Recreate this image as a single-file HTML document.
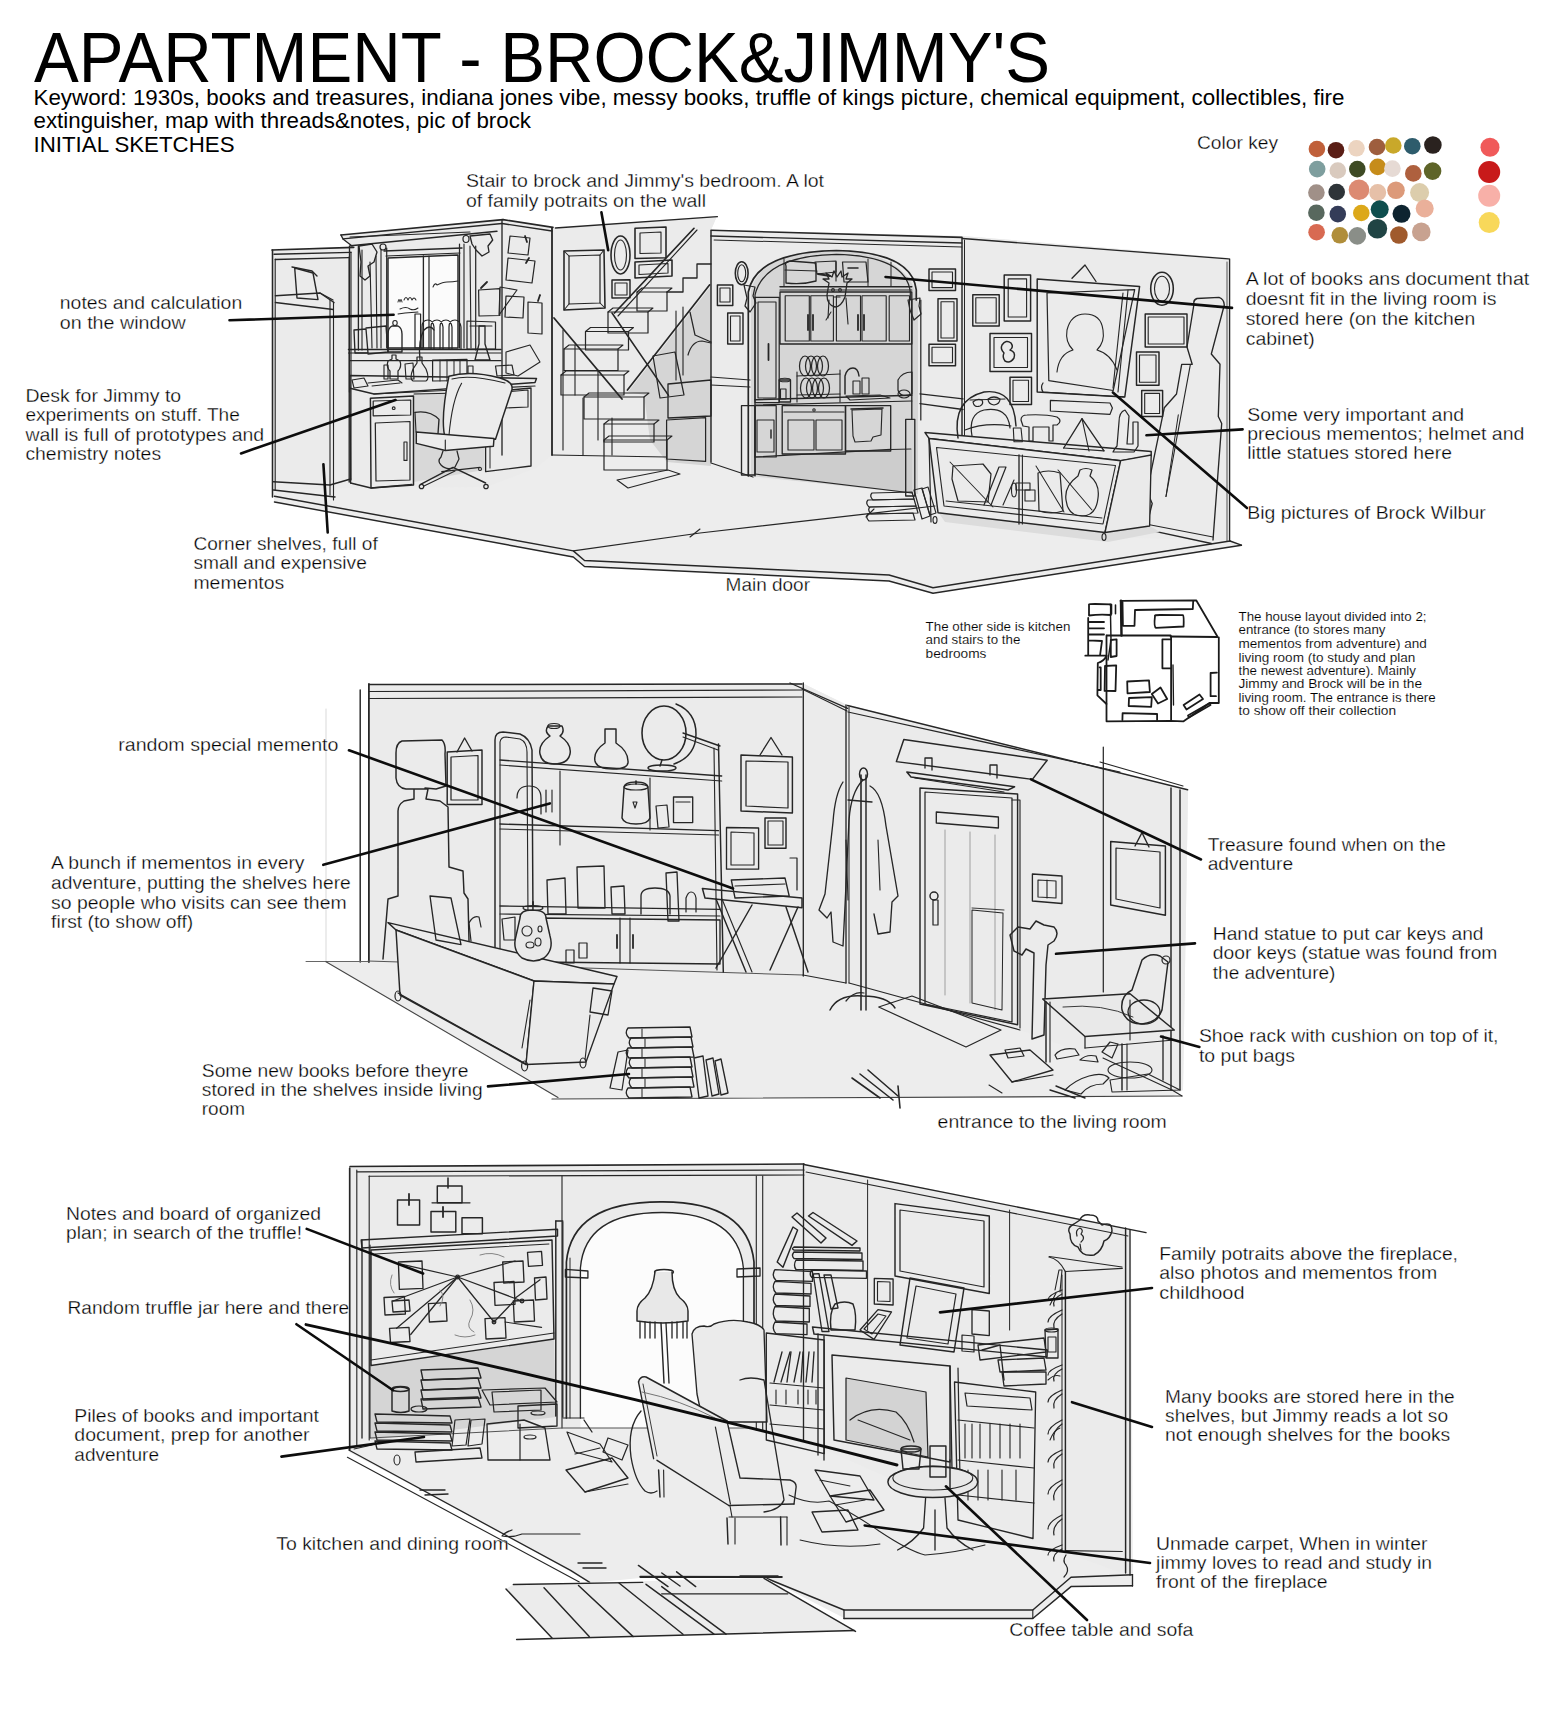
<!DOCTYPE html>
<html><head><meta charset="utf-8"><style>
html,body{margin:0;padding:0;background:#fff;width:1556px;height:1725px;overflow:hidden}
svg{position:absolute;left:0;top:0}
.a{font-family:"Liberation Sans",sans-serif;font-size:18px;fill:#000;stroke:#fff;stroke-width:0.3px}
.h{font-family:"Liberation Sans",sans-serif;fill:#000}
.s{font-family:"Liberation Sans",sans-serif;font-size:12.5px;fill:#000;stroke:#fff;stroke-width:0.12px}
</style></head><body>
<svg width="1556" height="1725" viewBox="0 0 1556 1725">
<g fill="none" stroke="#262626" stroke-width="1.4" stroke-linecap="round" stroke-linejoin="round">
<circle cx="1316.9" cy="149" r="8.3" fill="#c0603a" stroke="none"/>
<circle cx="1336" cy="150.2" r="8.3" fill="#5a1e16" stroke="none"/>
<circle cx="1356.5" cy="148.3" r="8.3" fill="#ecd4c0" stroke="none"/>
<circle cx="1377" cy="147" r="8.3" fill="#9e5e3e" stroke="none"/>
<circle cx="1393.3" cy="145.5" r="8.3" fill="#c9a82a" stroke="none"/>
<circle cx="1412.3" cy="146.2" r="8.3" fill="#2e5c6c" stroke="none"/>
<circle cx="1432.9" cy="145" r="8.8" fill="#2a221f" stroke="none"/>
<circle cx="1317.2" cy="169.1" r="8.3" fill="#7e9e9e" stroke="none"/>
<circle cx="1337.8" cy="170.5" r="8.3" fill="#d9cabe" stroke="none"/>
<circle cx="1357.3" cy="169.1" r="8.3" fill="#3e4a24" stroke="none"/>
<circle cx="1377.7" cy="166.9" r="8.3" fill="#c68c1a" stroke="none"/>
<circle cx="1392.4" cy="168.6" r="8.3" fill="#e6dad4" stroke="none"/>
<circle cx="1413.3" cy="173.4" r="8.3" fill="#ae603e" stroke="none"/>
<circle cx="1432.6" cy="171.1" r="8.8" fill="#5e6428" stroke="none"/>
<circle cx="1316.4" cy="192.6" r="8.3" fill="#a09088" stroke="none"/>
<circle cx="1336.7" cy="192" r="8.3" fill="#2e3438" stroke="none"/>
<circle cx="1359" cy="189.8" r="10.3" fill="#dc8a72" stroke="none"/>
<circle cx="1377.7" cy="192.6" r="8.5" fill="#e6c0a8" stroke="none"/>
<circle cx="1396" cy="190.3" r="8.8" fill="#dc9a7a" stroke="none"/>
<circle cx="1419.6" cy="192.6" r="9.5" fill="#dccdac" stroke="none"/>
<circle cx="1316.4" cy="212.7" r="8.3" fill="#58685e" stroke="none"/>
<circle cx="1337.8" cy="214.1" r="8.3" fill="#343c58" stroke="none"/>
<circle cx="1361.3" cy="213" r="8.3" fill="#dca81a" stroke="none"/>
<circle cx="1379.7" cy="209.3" r="9" fill="#0e4e4e" stroke="none"/>
<circle cx="1401.5" cy="213.8" r="9" fill="#0e2430" stroke="none"/>
<circle cx="1424.7" cy="208.5" r="9" fill="#eab09a" stroke="none"/>
<circle cx="1316.6" cy="232.2" r="8.3" fill="#d86a52" stroke="none"/>
<circle cx="1339.8" cy="235.3" r="8.3" fill="#b08e3a" stroke="none"/>
<circle cx="1357.3" cy="235.9" r="8.8" fill="#8a8e88" stroke="none"/>
<circle cx="1377.4" cy="228.8" r="9.8" fill="#204444" stroke="none"/>
<circle cx="1398.9" cy="235" r="8.8" fill="#a05a2c" stroke="none"/>
<circle cx="1421.3" cy="231.9" r="9.3" fill="#c8a290" stroke="none"/>
<circle cx="1490" cy="147.3" r="9.5" fill="#f05a5a" stroke="none"/>
<circle cx="1489.2" cy="172" r="11" fill="#c81a1a" stroke="none"/>
<circle cx="1489.2" cy="195.7" r="11" fill="#f8b0a8" stroke="none"/>
<circle cx="1489.2" cy="222.6" r="10.5" fill="#f8d85a" stroke="none"/>
<polygon points="272.0,249.0 354.0,247.0 340.0,235.0 503.0,219.0 556.0,228.0 717.0,216.0 711.0,230.0 962.0,236.0 1229.0,258.0 1230.0,541.0 1241.0,545.0 933.0,593.0 889.0,581.0 585.0,566.0 573.0,557.0 274.0,502.0" fill="#ededed" stroke="none"/>
<polygon points="272.0,249.0 354.0,247.0 340.0,235.0 503.0,219.0 556.0,228.0 717.0,216.0 711.0,230.0 962.0,236.0 1229.0,258.0 1230.0,541.0 1105.0,537.0 962.0,497.0 918.0,490.0 753.0,478.0 711.0,463.0 667.0,457.0 552.0,455.0 536.0,468.0 486.0,487.0 351.0,488.0 274.0,490.0" fill="#ebebeb" stroke="none"/>
<polygon points="414.0,393.0 484.0,391.0 484.0,470.0 414.0,482.0" fill="#d8d8d8" stroke="none"/>
<polygon points="628.0,392.0 711.0,286.0 711.0,466.0 667.0,462.0 650.0,440.0 644.0,395.0" fill="#d5d5d5" stroke="none"/>
<path d="M751,476 L751,290 Q760,252 836,251 Q908,252 918,300 L918,494 Z" stroke="none" fill="#d6d6d6"/>
<polygon points="755.0,457.0 890.7,449.4 912.0,450.0 912.0,493.0 755.0,474.0" fill="#cdcdcd" stroke="none"/>
<polyline points="272.0,250.0 353.7,247.3" stroke-width="1.68"/>
<polyline points="274.0,254.3 351.0,252.4"/>
<polyline points="275.3,259.5 348.5,257.6"/>
<polyline points="272.5,250.0 272.5,497.0" stroke-width="1.57"/>
<polyline points="275.2,259.0 275.2,490.0" stroke-width="1.12"/>
<polyline points="349.2,257.0 349.2,482.0" stroke-width="1.34"/>
<polyline points="351.0,252.0 351.0,480.0" stroke-width="1.12"/>
<polyline points="330.0,300.0 330.0,495.0" stroke-width="1.12"/>
<polyline points="333.5,302.0 333.5,500.0" stroke-width="1.12"/>
<polyline points="275.4,295.8 320.0,293.0 334.0,302.5"/>
<polyline points="275.4,302.5 333.3,309.5"/>
<polyline points="320.0,293.0 333.0,300.0"/>
<polygon points="294.7,268.0 313.0,273.0 318.0,299.6 297.0,298.0"/>
<polyline points="292.0,267.0 312.0,271.0 317.0,276.0"/>
<polyline points="273.5,481.8 330.0,485.0 350.6,479.0"/>
<polyline points="273.5,490.0 335.0,497.0"/>
<polyline points="274.5,496.2 573.3,550.9 584.5,560.5 889.0,575.0 933.0,587.7 1230.0,541.0" stroke-width="1.46"/>
<polyline points="274.5,502.0 573.3,557.0 584.5,566.5 889.0,581.0 933.0,593.3 1241.4,545.2" stroke-width="1.46"/>
<polyline points="1230.0,541.0 1241.4,545.2"/>
<polyline points="573.3,550.9 700.0,533.0 869.0,513.6 935.0,506.0" stroke-width="1.12"/>
<polyline points="690.0,537.0 700.0,529.0" stroke-width="1.12"/>
<polyline points="866.0,517.0 874.0,509.0" stroke-width="1.12"/>
<polyline points="341.0,235.0 503.0,219.6" stroke-width="1.68"/>
<polyline points="343.0,238.9 502.0,223.5"/>
<polyline points="350.6,245.7 497.0,231.2"/>
<polyline points="341.0,235.0 343.0,239.0 352.0,246.0"/>
<polyline points="349.5,246.0 349.5,392.0" stroke-width="1.34"/>
<polyline points="358.4,246.0 358.4,350.0" stroke-width="1.34"/>
<polyline points="362.0,250.0 362.0,350.0" stroke-width="1.12"/>
<polygon points="359.0,246.0 372.0,244.0 377.0,252.0 374.0,262.0 368.0,266.0 370.0,276.0 365.0,280.0 360.0,276.0 361.0,262.0" stroke-width="1.34"/>
<polyline points="370.0,262.0 372.0,348.0" stroke-width="1.12"/>
<polyline points="376.0,256.0 377.0,348.0" stroke-width="1.12"/>
<polyline points="381.0,250.0 381.0,348.0" stroke-width="1.12"/>
<polyline points="386.7,248.0 386.7,348.0" stroke-width="1.23"/>
<ellipse cx="383.0" cy="247.0" rx="3.0" ry="3.0" stroke-width="1.23"/>
<polygon points="388.0,258.0 458.0,255.0 458.0,348.0 388.0,348.0" fill="#fbfbfb" stroke="none"/>
<polyline points="384.0,251.0 462.0,248.0" stroke-width="1.34"/>
<polyline points="386.0,256.0 460.0,253.0" stroke-width="1.12"/>
<polygon points="388.0,258.0 458.0,255.0 458.0,348.0 388.0,348.0" stroke-width="1.46"/>
<polyline points="423.4,256.0 423.4,348.0" stroke-width="1.34"/>
<polyline points="429.0,256.0 429.0,348.0" stroke-width="1.23"/>
<path d="M398,302 q1,-5 2,0 q1,-5 2,0 M404,300 q2,-5 4,0 q2,-5 4,0 q2,-4 4,0" stroke-width="1.01"/>
<path d="M400,309 q6,-3 10,0 q4,2 8,-1" stroke-width="1.01"/>
<polyline points="398.0,314.0 405.0,313.0 418.0,312.0" stroke-width="1.01"/>
<path d="M433,287 q2,-5 4,-2 q6,-3 10,-3 q6,0 11,-1" stroke-width="1.01"/>
<polyline points="459.5,244.0 459.5,348.0" stroke-width="1.23"/>
<polyline points="464.0,244.0 464.0,348.0" stroke-width="1.12"/>
<polyline points="470.0,246.0 471.0,348.0" stroke-width="1.12"/>
<polyline points="475.7,246.0 475.7,350.0" stroke-width="1.23"/>
<polygon points="470.0,236.0 490.0,234.0 492.7,240.0 488.0,246.0 489.0,252.0 482.0,256.0 476.0,250.0 472.0,244.0" stroke-width="1.34"/>
<ellipse cx="466.0" cy="239.0" rx="3.0" ry="3.5" stroke-width="1.23"/>
<polyline points="350.0,237.0 470.0,232.0" stroke-width="1.12"/>
<polyline points="348.5,349.4 501.0,349.4" stroke-width="1.46"/>
<polyline points="348.5,353.0 501.0,353.0" stroke-width="1.12"/>
<polyline points="350.0,360.7 501.0,360.7" stroke-width="1.23"/>
<polygon points="354.0,330.0 366.0,329.0 368.0,353.0 355.0,353.0" stroke-width="1.34"/>
<path d="M366,328 l20,-2 l2,26 l-20,2" stroke-width="1.34"/>
<path d="M392,326 q-4,2 -4,8 l0,18 l14,0 l0,-18 q0,-6 -4,-8 z" stroke-width="1.34"/>
<ellipse cx="395.0" cy="323.0" rx="2.2" ry="2.5" stroke-width="1.12"/>
<polygon points="415.0,314.0 420.6,314.0 420.6,348.0 415.0,348.0" stroke-width="1.23"/>
<path d="M422,349 l0,-22 q0,-7 6,-7 q5,0 6,7 l0,22 M431,349 l0,-22 q0,-7 6,-7 q5,0 6,7 l0,22 M440,349 l0,-22 q0,-7 6,-7 q5,0 6,7 l0,22 M449,349 l0,-22 q0,-7 6,-7 q5,0 6,7 l0,22" stroke-width="1.23"/>
<path d="M420,360 q-2,-20 4,-30 q6,-6 10,0" stroke-width="1.34"/>
<polygon points="467.0,321.0 495.5,322.0 495.5,349.0 467.0,349.0" stroke-width="1.23"/>
<polyline points="470.0,326.0 492.0,326.0" stroke-width="1.01"/>
<path d="M475,360 l4,-16 l0,-18 l6,0 l0,18 l5,16 z" stroke-width="1.34"/>
<polygon points="478.6,290.0 499.8,288.6 499.8,315.5 479.0,316.0" stroke-width="1.23"/>
<polyline points="481.0,288.0 487.0,282.0" stroke-width="1.79"/>
<path d="M390,379 l0,-8 q-4,-4 -2,-10 l4,-2 l0,-4 l4,0 l0,4 l4,2 q2,6 -2,10 l0,8 z" stroke-width="1.23"/>
<polygon points="405.0,364.0 413.0,363.0 414.0,379.0 406.0,379.0" stroke-width="1.12"/>
<polygon points="384.0,365.0 388.0,365.0 388.0,379.0 384.0,379.0" stroke-width="1.12"/>
<path d="M413,381 q-4,-2 0,-12 l4,-6 l0,-6 l5,0 l0,6 l4,6 q4,10 0,12 z" stroke-width="1.23"/>
<polygon points="432.6,360.0 467.0,359.3 467.0,380.5 432.6,381.0" stroke-width="1.23"/>
<polyline points="440.0,360.0 440.0,381.0" stroke-width="1.01"/>
<polyline points="447.0,360.0 447.0,381.0" stroke-width="1.01"/>
<polyline points="454.0,360.0 454.0,381.0" stroke-width="1.01"/>
<polyline points="460.0,360.0 460.0,381.0" stroke-width="1.01"/>
<polygon points="468.0,366.0 473.0,366.0 473.0,374.0 468.0,374.0" stroke-width="1.12"/>
<polygon points="495.5,366.0 512.0,365.0 514.0,375.0 497.0,376.0" stroke-width="1.23"/>
<polygon points="352.0,380.0 364.0,378.0 368.0,386.0 354.0,388.0" stroke-width="1.12"/>
<polyline points="368.0,383.0 398.0,380.0 402.0,383.0" stroke-width="1.12"/>
<polyline points="372.0,386.0 400.0,383.0" stroke-width="1.01"/>
<polyline points="503.0,219.6 553.0,227.4" stroke-width="1.57"/>
<polyline points="502.0,223.5 552.0,231.0"/>
<polyline points="502.0,220.0 502.0,455.0" stroke-width="1.34"/>
<polyline points="552.0,228.0 552.0,455.0" stroke-width="1.34"/>
<polygon points="510.0,236.0 530.0,238.0 528.0,255.0 508.0,253.0" stroke-width="1.23"/>
<polygon points="508.0,258.0 535.0,261.0 532.0,283.0 506.0,280.0" stroke-width="1.23"/>
<polygon points="506.0,296.0 524.0,297.0 523.0,318.0 505.0,317.0" stroke-width="1.23"/>
<polygon points="528.0,302.0 542.0,303.0 542.0,334.0 528.0,333.0" stroke-width="1.23"/>
<polygon points="517.0,290.0 500.0,287.0 499.0,315.0" stroke-width="1.12"/>
<polygon points="506.0,352.0 530.0,345.0 540.0,362.0 518.0,376.0 506.0,373.0" stroke-width="1.12"/>
<polyline points="525.0,236.0 527.0,242.0" stroke-width="1.79"/>
<polyline points="526.0,263.0 529.0,258.0" stroke-width="1.79"/>
<polyline points="538.0,301.0 540.0,295.0" stroke-width="1.79"/>
<polygon points="349.9,375.6 536.5,378.4 535.0,382.6 374.0,394.0 350.0,388.3" stroke-width="1.46"/>
<polyline points="374.0,394.0 535.0,386.0" stroke-width="1.23"/>
<polyline points="350.0,388.3 350.6,483.0" stroke-width="1.34"/>
<polyline points="350.6,483.0 371.0,488.0 412.0,484.4" stroke-width="1.34"/>
<polygon points="370.4,398.2 413.5,396.0 413.5,485.0 371.0,488.0" stroke-width="1.46"/>
<polygon points="373.2,401.0 410.7,400.0 410.7,415.0 373.2,415.8" stroke-width="1.23"/>
<ellipse cx="393.7" cy="408.2" rx="1.4" ry="1.3" stroke-width="1.12"/>
<polygon points="375.3,423.0 410.0,421.5 410.0,480.0 376.0,481.0" stroke-width="1.23"/>
<polygon points="404.0,442.0 407.0,442.0 407.0,460.4 404.0,460.4" stroke-width="1.12"/>
<polygon points="485.6,392.5 531.0,388.0 531.0,466.0 485.6,471.7" stroke-width="1.34"/>
<polygon points="504.7,392.0 528.0,390.0 528.0,407.0 505.0,408.0" stroke-width="1.12"/>
<polyline points="490.0,398.0 490.0,468.0" stroke-width="1.01"/>
<polyline points="414.0,394.0 485.6,392.5" stroke-width="1.12"/>
<path d="M448.9,376.3 Q470,370 500,378 Q514,382 511.8,390 L495.5,439.2 L445.3,438.5 Q440,420 448.9,376.3 Z" stroke-width="1.46" fill="#ececec"/>
<path d="M461.6,383.3 Q452,400 448.9,436.3" stroke-width="1.12"/>
<path d="M452,379 Q470,374 505,383" stroke-width="1.12"/>
<path d="M415,412.3 Q430,410 439,419.4 L437.6,439.2" stroke-width="1.34"/>
<polyline points="415.0,412.3 416.0,432.0" stroke-width="1.12"/>
<polygon points="416.3,432.0 494.0,438.5 493.4,446.2 445.3,450.5 416.3,443.4" stroke-width="1.46" fill="#ececec"/>
<polyline points="445.3,440.0 445.3,450.5" stroke-width="1.12"/>
<path d="M443,451 l-2,6 q-4,4 0,8 q6,6 14,2 l4,-8 l-2,-8" stroke-width="1.23"/>
<polyline points="420.6,484.4 453.0,467.4 485.6,483.0" stroke-width="1.46"/>
<polyline points="441.8,471.7 480.0,467.4" stroke-width="1.34"/>
<polyline points="424.0,486.0 455.0,471.0" stroke-width="1.12"/>
<ellipse cx="421.5" cy="486.5" rx="2.2" ry="2.2" stroke-width="1.23"/>
<ellipse cx="486.0" cy="486.5" rx="2.2" ry="2.2" stroke-width="1.23"/>
<ellipse cx="480.0" cy="469.0" rx="1.5" ry="1.5" stroke-width="1.12"/>
<polyline points="555.4,228.0 717.4,216.7" stroke-width="1.34"/>
<polyline points="552.0,228.0 552.0,455.0" stroke-width="1.46"/>
<polyline points="711.0,231.0 711.0,462.0" stroke-width="1.46"/>
<polyline points="552.0,455.0 666.0,457.0" stroke-width="1.23"/>
<polygon points="564.0,251.0 604.0,250.0 605.0,308.0 564.0,310.0" stroke-width="1.57"/>
<polygon points="569.0,256.0 600.0,255.0 600.0,303.0 569.0,304.0" stroke-width="1.23"/>
<polyline points="564.0,251.0 569.0,256.0" stroke-width="1.01"/>
<polyline points="604.0,250.0 600.0,255.0" stroke-width="1.01"/>
<polyline points="605.0,308.0 600.0,303.0" stroke-width="1.01"/>
<polyline points="564.0,310.0 569.0,304.0" stroke-width="1.01"/>
<ellipse cx="620.5" cy="255.0" rx="9.5" ry="19.0" stroke-width="1.57"/>
<ellipse cx="620.5" cy="255.0" rx="6.0" ry="15.0" stroke-width="1.12"/>
<polygon points="635.0,228.3 666.0,227.0 666.0,257.8 635.0,258.5" stroke-width="1.57"/>
<polygon points="640.0,233.0 661.0,232.0 661.0,253.0 640.0,253.5" stroke-width="1.12"/>
<polygon points="635.0,262.0 672.0,260.0 672.0,276.0 635.0,278.0" stroke-width="1.57"/>
<polygon points="639.0,265.0 668.0,263.5 668.0,273.0 639.0,274.5" stroke-width="1.12"/>
<polygon points="612.0,280.0 630.0,279.7 630.0,297.7 612.0,298.0" stroke-width="1.46"/>
<polygon points="615.0,283.0 627.0,283.0 627.0,295.0 615.0,295.0" stroke-width="1.12"/>
<polygon points="604.0,440.0 667.0,440.0 667.0,470.0 604.0,470.0" stroke-width="1.23"/>
<polyline points="604.0,440.0 609.0,436.0 672.0,436.0 667.0,440.0" stroke-width="1.12"/>
<polygon points="604.0,424.0 654.0,424.0 654.0,442.0 604.0,442.0" stroke-width="1.23"/>
<polyline points="604.0,424.0 609.0,420.0 659.0,420.0 654.0,424.0" stroke-width="1.12"/>
<polygon points="584.0,397.0 644.0,397.0 644.0,419.0 584.0,419.0" stroke-width="1.23"/>
<polyline points="584.0,397.0 589.0,393.0 649.0,393.0 644.0,397.0" stroke-width="1.12"/>
<polygon points="561.0,375.0 624.0,375.0 624.0,395.0 561.0,395.0" stroke-width="1.23"/>
<polyline points="561.0,375.0 566.0,371.0 629.0,371.0 624.0,375.0" stroke-width="1.12"/>
<polygon points="564.0,349.0 618.0,349.0 618.0,370.5 564.0,370.5" stroke-width="1.23"/>
<polyline points="564.0,349.0 569.0,345.0 623.0,345.0 618.0,349.0" stroke-width="1.12"/>
<polygon points="585.5,331.5 628.5,331.5 628.5,350.0 585.5,350.0" stroke-width="1.23"/>
<polyline points="585.5,331.5 590.5,327.5 633.5,327.5 628.5,331.5" stroke-width="1.12"/>
<polygon points="608.0,312.0 648.0,312.0 648.0,333.0 608.0,333.0" stroke-width="1.23"/>
<polyline points="608.0,312.0 613.0,308.0 653.0,308.0 648.0,312.0" stroke-width="1.12"/>
<polygon points="637.0,292.0 667.0,292.0 667.0,311.0 637.0,311.0" stroke-width="1.23"/>
<polyline points="637.0,292.0 642.0,288.0 672.0,288.0 667.0,292.0" stroke-width="1.12"/>
<polyline points="667.0,292.0 683.0,292.0 683.0,278.0 697.0,278.0 697.0,264.0 711.0,264.0" stroke-width="1.34"/>
<polyline points="583.0,398.0 583.0,455.0" stroke-width="1.12"/>
<polyline points="612.0,418.0 612.0,455.0" stroke-width="1.12"/>
<polyline points="554.0,318.0 622.0,399.0" stroke-width="1.79"/>
<polyline points="612.0,313.0 668.5,395.4" stroke-width="1.57"/>
<polyline points="614.5,313.0 694.0,228.3" stroke-width="1.68"/>
<polyline points="618.0,316.0 697.0,230.0" stroke-width="1.12"/>
<polyline points="627.4,390.0 709.7,284.8" stroke-width="1.68"/>
<polyline points="563.0,330.0 563.0,450.0" stroke-width="1.12"/>
<polyline points="575.0,345.0 575.0,395.0" stroke-width="1.12"/>
<polyline points="598.0,370.0 598.0,440.0" stroke-width="1.12"/>
<polygon points="653.0,356.0 675.0,352.0 684.0,395.0 660.0,398.0" stroke-width="1.23"/>
<polygon points="668.0,384.0 711.0,380.0 711.0,416.0 668.0,418.0" stroke-width="1.34"/>
<polygon points="666.6,420.0 705.6,417.6 705.6,461.4 666.6,459.0" stroke-width="1.23"/>
<polyline points="690.0,312.0 695.0,335.0 711.0,342.0" stroke-width="1.23"/>
<path d="M688,355 q4,-14 14,-14 l9,2" stroke-width="1.23"/>
<polyline points="676.0,311.0 676.0,380.0" stroke-width="1.12"/>
<polyline points="683.0,307.0 683.0,375.0" stroke-width="1.12"/>
<polygon points="617.0,480.0 668.0,470.0 680.0,474.0 628.0,488.0" stroke-width="1.12"/>
<polyline points="711.0,230.3 962.0,237.4" stroke-width="1.57"/>
<polyline points="711.0,236.0 962.0,243.0" stroke-width="1.34"/>
<polyline points="714.0,240.0 962.0,247.0" stroke-width="1.01"/>
<polyline points="711.0,377.0 750.0,380.0" stroke-width="1.23"/>
<polyline points="711.0,385.0 750.0,387.0" stroke-width="1.23"/>
<polyline points="711.0,463.0 753.0,477.0" stroke-width="1.23"/>
<ellipse cx="741.7" cy="273.3" rx="6.4" ry="11.5" stroke-width="1.57"/>
<ellipse cx="741.7" cy="273.3" rx="4.0" ry="8.5" stroke-width="1.12"/>
<polygon points="717.4,285.0 732.8,285.0 732.8,305.4 717.4,305.4" stroke-width="1.46"/>
<polygon points="720.0,288.0 730.0,288.0 730.0,302.0 720.0,302.0" stroke-width="1.12"/>
<polygon points="727.7,313.0 743.0,313.0 743.0,344.0 727.7,344.0" stroke-width="1.46"/>
<polygon points="730.5,316.0 740.0,316.0 740.0,341.0 730.5,341.0" stroke-width="1.12"/>
<path d="M748.3,476 L748.3,292 Q756,252 836.4,250.5 Q912,252 916.3,290 L916.3,300" stroke-width="1.68"/>
<path d="M755,476 L755,295 Q764,256 836.4,254.3 Q906,256 910.3,292 L910.3,300" stroke-width="1.23"/>
<polygon points="741.5,405.7 755.0,405.7 755.0,475.0 741.5,475.0" stroke-width="1.34"/>
<polygon points="905.7,419.3 914.8,419.3 914.8,496.0 905.7,496.0" stroke-width="1.34"/>
<polyline points="911.8,300.0 911.8,419.0" stroke-width="1.34"/>
<polyline points="920.8,300.0 920.8,420.0" stroke-width="1.23"/>
<polygon points="744.0,285.0 755.0,287.0 753.0,296.0 756.0,303.0 750.0,312.0 745.0,306.0 747.0,298.0" stroke-width="1.23"/>
<polygon points="908.0,300.0 920.0,298.0 919.0,306.0 921.0,314.0 914.0,320.0 910.0,310.0" stroke-width="1.23"/>
<polygon points="755.0,297.3 779.2,297.3 779.2,402.7 755.0,402.7" stroke-width="1.23"/>
<polygon points="758.0,302.0 776.0,302.0 776.0,398.0 758.0,398.0" stroke-width="1.12"/>
<polyline points="768.5,344.0 768.5,360.0" stroke-width="1.79"/>
<polyline points="780.0,286.7 911.8,286.7" stroke-width="1.46"/>
<polyline points="780.0,290.0 911.8,290.0" stroke-width="1.23"/>
<polygon points="780.0,292.0 911.8,292.0 911.8,344.0 780.0,344.0" stroke-width="1.34"/>
<polygon points="785.2,295.7 809.3,295.7 809.3,341.0 785.2,341.0" stroke-width="1.12"/>
<polygon points="810.8,295.7 833.4,295.7 833.4,341.0 810.8,341.0" stroke-width="1.12"/>
<polygon points="836.4,295.7 860.5,295.7 860.5,341.0 836.4,341.0" stroke-width="1.12"/>
<polygon points="862.0,295.7 886.2,295.7 886.2,341.0 862.0,341.0" stroke-width="1.12"/>
<polygon points="889.2,295.7 909.5,295.7 909.5,341.0 889.2,341.0" stroke-width="1.12"/>
<polyline points="808.0,315.0 808.0,330.0" stroke-width="1.79"/>
<polyline points="813.0,315.0 813.0,330.0" stroke-width="1.79"/>
<polyline points="858.0,315.0 858.0,330.0" stroke-width="1.79"/>
<polyline points="864.0,315.0 864.0,330.0" stroke-width="1.79"/>
<polyline points="784.0,259.0 784.0,286.0" stroke-width="1.01"/>
<polyline points="868.0,259.0 868.0,286.0" stroke-width="1.01"/>
<polyline points="891.0,262.0 891.0,286.0" stroke-width="1.01"/>
<path d="M786,266 q-2,-4 4,-5 l26,2 l0,18 q-14,4 -30,2 z" stroke-width="1.34"/>
<polyline points="785.0,270.0 817.0,271.0" stroke-width="1.12"/>
<polygon points="815.0,262.0 836.0,261.0 836.0,272.0 817.0,274.0" stroke-width="1.23"/>
<polyline points="818.0,274.0 830.0,276.0" stroke-width="1.79"/>
<polygon points="842.5,262.0 866.0,262.0 868.0,282.0 844.0,282.0" stroke-width="1.23"/>
<polyline points="848.0,268.0 858.0,268.0" stroke-width="1.57"/>
<polyline points="836.0,262.0 836.0,281.0" stroke-width="1.12"/>
<path d="M829,283 l-6,-4 l6,0 l-3,-6 l6,4 l2,-6 l3,6 l4,-6 l1,6 l6,-4 l-2,6 l6,0 l-5,4 l-2,14 q-4,10 -10,10 q-8,-2 -8,-12 z" stroke-width="1.34"/>
<ellipse cx="833.0" cy="290.0" rx="1.4" ry="1.4" stroke-width="1.12"/>
<ellipse cx="840.0" cy="290.0" rx="1.4" ry="1.4" stroke-width="1.12"/>
<polyline points="834.0,297.0 840.0,297.0" stroke-width="1.23"/>
<polyline points="829.0,300.0 828.0,318.0" stroke-width="1.12"/>
<polyline points="846.0,298.0 848.0,324.0" stroke-width="1.12"/>
<polyline points="831.0,312.0 826.0,320.0" stroke-width="1.01"/>
<ellipse cx="805.0" cy="366.0" rx="5.5" ry="10.0" stroke-width="1.23"/>
<ellipse cx="806.0" cy="388.0" rx="5.5" ry="10.0" stroke-width="1.23"/>
<ellipse cx="811.0" cy="366.0" rx="5.5" ry="10.0" stroke-width="1.23"/>
<ellipse cx="812.0" cy="388.0" rx="5.5" ry="10.0" stroke-width="1.23"/>
<ellipse cx="817.0" cy="366.0" rx="5.5" ry="10.0" stroke-width="1.23"/>
<ellipse cx="818.0" cy="388.0" rx="5.5" ry="10.0" stroke-width="1.23"/>
<ellipse cx="823.0" cy="366.0" rx="5.5" ry="10.0" stroke-width="1.23"/>
<ellipse cx="824.0" cy="388.0" rx="5.5" ry="10.0" stroke-width="1.23"/>
<polyline points="797.0,372.0 797.0,402.0" stroke-width="1.12"/>
<polyline points="797.0,376.0 840.0,374.0" stroke-width="1.12"/>
<polyline points="797.0,395.0 840.0,394.0" stroke-width="1.12"/>
<polyline points="840.0,370.0 840.0,402.0" stroke-width="1.12"/>
<path d="M845,394 l0,-18 q2,-8 8,-8 q5,0 6,8" stroke-width="1.46"/>
<polygon points="853.0,381.0 860.0,381.0 860.0,394.0 853.0,394.0" stroke-width="1.12"/>
<polygon points="862.0,378.0 869.0,378.0 869.0,394.0 862.0,394.0" stroke-width="1.12"/>
<polygon points="779.2,380.0 790.5,380.0 790.5,402.0 779.2,402.0" stroke-width="1.34"/>
<ellipse cx="784.8" cy="380.0" rx="5.6" ry="1.8" stroke-width="1.12"/>
<polygon points="780.5,389.0 786.0,389.0 786.0,399.0 780.5,399.0" stroke-width="1.12"/>
<path d="M898,380 q4,-8 14,-8 l0,22 q-12,4 -14,-4 z" stroke-width="1.23"/>
<ellipse cx="904.0" cy="394.0" rx="6.0" ry="4.0" stroke-width="1.12"/>
<polyline points="755.0,399.7 911.8,395.2" stroke-width="1.46"/>
<polyline points="755.0,405.0 911.8,401.0" stroke-width="1.23"/>
<polygon points="846.0,396.0 880.0,395.0 890.0,398.0 850.0,400.0" stroke-width="1.12"/>
<polygon points="782.2,405.7 845.5,405.7 845.5,454.0 782.2,454.0" stroke-width="1.34"/>
<polyline points="784.0,412.0 844.0,412.0" stroke-width="1.23"/>
<ellipse cx="814.0" cy="410.0" rx="1.2" ry="1.2" stroke-width="1.12"/>
<polygon points="788.0,420.0 814.0,420.0 814.0,450.0 788.0,450.0" stroke-width="1.12"/>
<polygon points="816.0,420.0 842.0,420.0 842.0,450.0 816.0,450.0" stroke-width="1.12"/>
<polygon points="845.5,405.7 890.7,405.7 890.7,451.0 845.5,451.0" stroke-width="1.34"/>
<path d="M852,410 l30,-1 l-1,26 l-8,2 l-2,4 l-16,1 l-2,-6 z" stroke-width="1.12"/>
<polyline points="851.0,409.0 883.0,408.0" stroke-width="1.57"/>
<polygon points="755.0,405.7 776.2,405.7 776.2,457.0 755.0,457.0" stroke-width="1.23"/>
<polygon points="757.0,420.0 774.0,420.0 774.0,452.0 757.0,452.0" stroke-width="1.12"/>
<polyline points="771.0,430.0 771.0,438.0" stroke-width="1.46"/>
<polyline points="755.0,457.0 890.7,449.4" stroke-width="1.23"/>
<polyline points="890.7,449.4 911.0,449.0" stroke-width="1.01"/>
<polyline points="755.0,474.0 912.0,493.0" stroke-width="1.12"/>
<polyline points="962.5,238.5 1228.5,258.9" stroke-width="1.34"/>
<polyline points="962.0,238.0 962.0,500.0" stroke-width="1.46"/>
<polyline points="964.5,240.0 964.5,500.0" stroke-width="1.01"/>
<polyline points="1229.6,258.9 1229.6,541.0" stroke-width="1.34"/>
<polyline points="1227.0,262.0 1227.0,541.0" stroke-width="0.78"/>
<polyline points="920.0,393.8 963.0,398.8" stroke-width="1.34"/>
<polyline points="920.0,403.7 963.0,409.5" stroke-width="1.34"/>
<polygon points="929.0,269.0 955.5,269.0 955.5,290.6 929.0,290.6" stroke-width="1.46"/>
<polygon points="932.0,272.0 952.5,272.0 952.5,287.6 932.0,287.6" stroke-width="1.12"/>
<polygon points="938.0,298.8 957.0,298.8 957.0,341.0 938.0,341.0" stroke-width="1.46"/>
<polygon points="941.0,301.8 954.0,301.8 954.0,338.0 941.0,338.0" stroke-width="1.12"/>
<polygon points="929.0,344.2 955.5,344.2 955.5,365.7 929.0,365.7" stroke-width="1.46"/>
<polygon points="932.0,347.2 952.5,347.2 952.5,362.7 932.0,362.7" stroke-width="1.12"/>
<polygon points="972.8,294.7 999.2,294.7 999.2,326.0 972.8,326.0" stroke-width="1.46"/>
<polygon points="975.8,297.7 996.2,297.7 996.2,323.0 975.8,323.0" stroke-width="1.12"/>
<polygon points="1004.2,274.9 1030.6,274.9 1030.6,321.0 1004.2,321.0" stroke-width="1.46"/>
<polygon points="1008.2,278.9 1026.6,278.9 1026.6,317.0 1008.2,317.0" stroke-width="1.12"/>
<polygon points="990.0,333.5 1031.5,333.5 1031.5,371.5 990.0,371.5" stroke-width="1.46"/>
<polygon points="994.0,337.5 1027.5,337.5 1027.5,367.5 994.0,367.5" stroke-width="1.12"/>
<path d="M1002,345 q4,-6 9,-2 q3,4 -1,7 q6,2 4,8 q-4,6 -9,3 q-3,-4 -1,-8 q-4,-4 -2,-8z" stroke-width="1.46"/>
<polygon points="1010.0,377.3 1031.5,377.3 1031.5,404.5 1010.0,404.5" stroke-width="1.46"/>
<polygon points="1013.0,380.3 1028.5,380.3 1028.5,401.5 1013.0,401.5" stroke-width="1.12"/>
<polygon points="1037.2,279.0 1139.6,286.4 1124.8,397.0 1037.2,392.0" stroke-width="1.46"/>
<polygon points="1047.0,293.0 1134.7,289.7 1113.2,390.5 1048.8,380.6" stroke-width="1.23"/>
<polyline points="1123.0,293.0 1113.0,388.0" stroke-width="1.12"/>
<polyline points="1128.0,290.0 1118.0,392.0" stroke-width="1.12"/>
<path d="M1043,383 q-3,4 0,9 L1124,397" stroke-width="1.23"/>
<polyline points="1072.0,278.2 1085.0,265.0 1096.0,281.5" stroke-width="1.34"/>
<path d="M1057,372 q2,-18 16,-22 q-8,-8 -6,-20 q4,-16 18,-16 q16,0 18,16 q2,12 -6,20 q14,4 20,20" stroke-width="1.12"/>
<polygon points="1050.4,400.4 1110.0,403.0 1112.4,408.0 1110.0,414.4 1050.4,411.0" stroke-width="1.23"/>
<ellipse cx="1162.0" cy="288.7" rx="11.3" ry="16.5" stroke-width="1.57"/>
<ellipse cx="1162.0" cy="288.7" rx="7.5" ry="12.5" stroke-width="1.12"/>
<polygon points="1145.2,314.0 1187.0,314.0 1187.0,347.0 1145.2,347.0" stroke-width="1.46"/>
<polygon points="1148.2,317.0 1184.0,317.0 1184.0,344.0 1148.2,344.0" stroke-width="1.12"/>
<polygon points="1136.5,352.0 1159.0,352.0 1159.0,385.2 1136.5,385.2" stroke-width="1.46"/>
<polygon points="1139.5,355.0 1156.0,355.0 1156.0,382.2 1139.5,382.2" stroke-width="1.12"/>
<polygon points="1141.7,390.4 1162.6,390.4 1162.6,416.5 1141.7,416.5" stroke-width="1.46"/>
<polygon points="1144.7,393.4 1159.6,393.4 1159.6,413.5 1144.7,413.5" stroke-width="1.12"/>
<path d="M1197,298.5 L1219,297.4 Q1224,299 1224.3,305 L1211.3,354 L1220,364.3 L1218.3,416.5 L1221.7,423.5 L1213,540 M1197,298.5 Q1193,300 1194,304 L1187,347 L1192.2,364.3 L1181.7,364.3 L1176.5,394 L1164.3,407.8 L1147,491.3 L1152.2,503.5 L1147,524.3 L1147,529.6 L1211.3,543.5" stroke-width="1.34"/>
<polyline points="1190.4,364.3 1166.0,496.5" stroke-width="1.12"/>
<polyline points="1178.3,414.8 1166.0,496.5" stroke-width="1.01"/>
<polyline points="1147.0,524.3 1213.0,537.0" stroke-width="1.12"/>
<polygon points="938.0,512.0 1105.0,532.0 1150.0,526.0 1160.0,532.0 1108.0,542.0 945.0,522.0" fill="#dcdcdc" stroke="none"/>
<polygon points="925.0,432.6 1151.2,451.6 1151.2,456.0 1120.7,460.7 929.0,438.4" stroke-width="1.46" fill="#ebebeb"/>
<polygon points="929.0,438.4 1120.7,460.7 1105.0,532.5 938.0,512.7" stroke-width="1.46" fill="#ebebeb"/>
<polygon points="1120.7,460.7 1151.2,455.0 1149.6,526.0 1105.0,532.5" stroke-width="1.34" fill="#eaeaea"/>
<polygon points="936.5,447.5 1115.5,465.5 1103.0,524.0 944.0,506.0" stroke-width="1.12"/>
<polyline points="1019.0,455.0 1019.0,524.0" stroke-width="1.34"/>
<polyline points="1022.4,455.0 1022.4,524.0" stroke-width="1.12"/>
<polyline points="946.0,501.0 1102.0,518.0" stroke-width="1.01"/>
<path d="M953,466 l30,-2 l8,10 l-3,28 l-30,-1 l-6,-22 z" stroke-width="1.23"/>
<polyline points="950.0,462.0 993.0,507.0" stroke-width="1.01"/>
<polyline points="984.0,505.0 999.0,467.0 1006.0,467.0 991.0,505.0" stroke-width="1.23"/>
<polyline points="1003.0,505.0 1014.0,480.0" stroke-width="1.12"/>
<ellipse cx="1014.0" cy="490.0" rx="2.5" ry="7.0" stroke-width="1.12"/>
<polygon points="1016.0,483.0 1030.0,483.0 1030.0,490.0 1016.0,490.0" stroke-width="1.12"/>
<polygon points="1025.0,490.0 1035.0,490.0 1035.0,501.0 1025.0,501.0" stroke-width="1.12"/>
<path d="M1038,473 q10,-4 22,0 l3,38 q-12,4 -24,0 z" stroke-width="1.23"/>
<polyline points="1036.0,466.0 1064.0,512.0" stroke-width="1.01"/>
<path d="M1080,470 q6,-3 12,0 l-2,6 q10,8 8,22 q-2,18 -16,18 q-14,0 -16,-16 q-2,-14 12,-24 z" stroke-width="1.23"/>
<polyline points="1058.0,470.0 1092.0,510.0" stroke-width="1.01"/>
<polyline points="929.0,439.0 931.0,522.0" stroke-width="1.23"/>
<ellipse cx="935.0" cy="520.0" rx="2.0" ry="3.5" stroke-width="1.12"/>
<ellipse cx="1104.0" cy="537.0" rx="2.0" ry="3.5" stroke-width="1.12"/>
<path d="M958,438 q-6,-38 26,-46 q30,-4 32,34" stroke-width="1.46"/>
<path d="M972,436 q-4,-22 12,-26 q24,-4 26,18" stroke-width="1.23"/>
<path d="M973,402 q4,-4 9,-2 q2,4 -2,6 q-6,2 -7,-4 z M988,399 q6,-4 12,0 q0,5 -6,6 q-6,-1 -6,-6z" stroke-width="1.23"/>
<polyline points="970.0,400.0 1005.0,399.0" stroke-width="1.12"/>
<path d="M965,430 q20,-8 46,-4" stroke-width="1.12"/>
<polygon points="1013.3,428.0 1021.0,428.0 1022.4,441.7 1014.0,441.7" stroke-width="1.12"/>
<path d="M1021,420 q0,-5 6,-5 q18,-1 30,2 q6,4 0,8 l-4,0 l0,16 l-4,0 l0,-14 l-16,0 l0,14 l-4,0 l0,-14 l-6,-1z" stroke-width="1.23"/>
<polyline points="1063.7,448.0 1082.0,418.6 1104.0,450.8" stroke-width="1.34"/>
<polyline points="1063.7,448.0 1104.0,450.8" stroke-width="1.23"/>
<polyline points="1082.0,418.6 1089.0,451.0" stroke-width="1.12"/>
<path d="M1113,452 q2,-4 4,-6 l2,-24 q0,-10 6,-12 l4,6 l-2,28 l6,0 l0,-22 l5,0 l0,24 l-4,6 z" stroke-width="1.23"/>
<path d="M872,493 L912,492 L914,499 L873,500 Q869,496 872,493 Z" stroke-width="1.23"/>
<path d="M868,500 L914,499 L916,506 L869,507 Q865,503 868,500 Z" stroke-width="1.23"/>
<path d="M870,507 L916,506 L918,513 L871,514 Q867,510 870,507 Z" stroke-width="1.23"/>
<path d="M868,514 L913,513 L915,520 L869,521 Q865,517 868,514 Z" stroke-width="1.23"/>
<polygon points="914.0,490.0 922.0,488.0 930.0,516.0 922.0,519.0" stroke-width="1.23"/>
<polygon points="922.0,489.0 928.0,487.0 936.0,513.0 930.0,515.0" stroke-width="1.12"/>
<polygon points="368.0,684.0 802.0,683.0 847.0,705.0 1188.0,790.0 1183.0,1090.0 1172.0,1097.0 559.0,1099.0 326.0,961.0 368.0,961.0" fill="#ededed" stroke="none"/>
<polygon points="368.0,684.0 802.0,683.0 847.0,705.0 1188.0,790.0 1183.0,1090.0 1103.0,1060.0 1020.0,1030.0 847.0,983.0 803.0,975.0 368.0,961.0" fill="#ebebeb" stroke="none"/>
<polyline points="360.2,690.0 360.2,962.0" stroke-width="1.46"/>
<polyline points="368.9,684.0 368.9,962.0" stroke-width="1.79"/>
<polyline points="369.0,684.6 802.0,684.0" stroke-width="1.46"/>
<polyline points="369.0,691.5 802.0,690.0" stroke-width="1.23"/>
<polyline points="369.0,698.5 802.0,697.0" stroke-width="1.23"/>
<polyline points="326.0,709.0 326.0,962.0" stroke-width="0.56" stroke="#bbbbbb"/>
<polyline points="306.0,961.5 368.0,961.5" stroke-width="1.01" stroke="#666"/>
<polyline points="368.0,961.0 803.0,975.0" stroke-width="1.01" stroke="#555"/>
<polyline points="326.0,961.7 558.0,1097.4" stroke-width="1.12" stroke="#444"/>
<polyline points="552.0,1099.0 1182.0,1096.0" stroke-width="1.23" stroke="#444"/>
<polyline points="1182.0,1096.0 1172.0,1090.0" stroke-width="1.12"/>
<polyline points="790.0,683.0 847.6,708.4" stroke-width="1.34"/>
<polyline points="802.0,689.0 847.0,711.0" stroke-width="1.12"/>
<polyline points="803.3,683.0 803.3,976.0" stroke-width="1.34"/>
<polyline points="846.0,705.0 846.0,983.0" stroke-width="1.34"/>
<polyline points="849.0,707.0 849.0,983.0" stroke-width="1.01"/>
<polyline points="803.0,975.0 846.0,983.0" stroke-width="1.12"/>
<polyline points="847.6,705.5 1187.6,789.7" stroke-width="1.46"/>
<polyline points="848.0,712.0 1120.0,772.0" stroke-width="1.23"/>
<polyline points="1100.0,762.0 1183.0,786.0" stroke-width="1.12"/>
<polyline points="1103.3,747.0 1103.3,992.0" stroke-width="1.23"/>
<polyline points="1171.0,788.0 1171.0,1090.0" stroke-width="1.46"/>
<polyline points="1180.0,790.0 1180.0,1090.0" stroke-width="1.46"/>
<polyline points="849.0,983.0 1020.0,1030.0" stroke-width="1.12"/>
<polyline points="1103.0,1058.0 1172.0,1090.0" stroke-width="1.12"/>
<path d="M402,741 q-6,2 -6,12 l0,25 q1,10 10,11 l8,0 l0,10 l-10,2 q-6,4 -6,10 l0,85 l-10,3 l-5,60 M414,789 l14,0 l-2,10 l14,2 l8,6 l1,60 l14,4 l1,22 l4,6 l1,42 M402,741 l40,-1 q4,4 3,14 l1,32 l-10,3 l-11,-1" stroke-width="1.46"/>
<polygon points="447.2,752.0 482.0,750.0 482.0,804.6 447.2,804.6" stroke-width="1.46"/>
<polygon points="451.0,757.0 478.0,755.5 478.0,800.0 451.0,800.0" stroke-width="1.23"/>
<polyline points="457.0,752.0 464.6,738.0 472.0,751.0" stroke-width="1.34"/>
<path d="M495,967 L495,740 Q495,732 503,732 L520,734 Q530,738 532,750 L533,918" stroke-width="1.46"/>
<path d="M500,967 L500,742 Q501,737 506,737 L520,739 Q527,742 527,752 L528,918" stroke-width="1.12"/>
<polyline points="718.5,744.0 723.3,972.0" stroke-width="1.46"/>
<polyline points="714.0,748.0 717.0,970.0" stroke-width="1.12"/>
<polyline points="500.0,760.0 721.7,776.0" stroke-width="1.34"/>
<polyline points="500.0,765.0 721.7,781.0" stroke-width="1.12"/>
<polyline points="500.0,824.0 718.5,830.7" stroke-width="1.34"/>
<polyline points="500.0,829.0 718.5,835.0" stroke-width="1.12"/>
<polyline points="500.0,906.0 720.0,909.4" stroke-width="1.34"/>
<polyline points="500.0,914.0 720.0,916.0" stroke-width="1.23"/>
<polyline points="560.0,771.0 560.0,845.0" stroke-width="1.12"/>
<polyline points="650.0,778.0 650.0,830.0" stroke-width="1.12"/>
<polygon points="537.0,918.0 720.0,920.0 720.0,964.0 537.0,962.0" stroke-width="1.34"/>
<polyline points="620.0,918.0 620.0,963.0" stroke-width="1.23"/>
<polyline points="630.0,918.0 630.0,963.0" stroke-width="1.12"/>
<polyline points="617.0,935.0 617.0,948.0" stroke-width="1.79"/>
<polyline points="633.0,935.0 633.0,948.0" stroke-width="1.79"/>
<path d="M548,726 q-4,6 2,10 q-12,8 -10,18 q2,10 14,10 q14,0 16,-10 q2,-10 -10,-18 q5,-4 2,-10 z" stroke-width="1.46"/>
<ellipse cx="554.0" cy="726.0" rx="6.0" ry="2.5" stroke-width="1.23"/>
<path d="M605,729 l0,14 q-12,8 -10,18 q2,8 18,8 q16,0 15,-8 q0,-10 -12,-18 l0,-14 z" stroke-width="1.46"/>
<ellipse cx="664.0" cy="733.0" rx="22.0" ry="27.0" stroke-width="1.57"/>
<path d="M676,704 q20,8 20,30 q0,22 -22,30" stroke-width="1.46"/>
<polyline points="662.0,760.0 660.0,766.0" stroke-width="1.46"/>
<ellipse cx="662.0" cy="768.0" rx="14.0" ry="3.0" stroke-width="1.34"/>
<polyline points="683.0,733.0 720.0,746.0" stroke-width="1.34"/>
<polyline points="683.0,737.0 718.0,750.0" stroke-width="1.12"/>
<path d="M624,788 q0,-6 12,-6 q12,0 12,6 l2,30 q-2,6 -14,6 q-12,0 -14,-6 z" stroke-width="1.46"/>
<ellipse cx="636.0" cy="787.0" rx="12.0" ry="3.0" stroke-width="1.23"/>
<polyline points="636.0,781.0 636.0,784.0" stroke-width="1.68"/>
<path d="M633,802 l4,0 l-2,6 z" stroke-width="1.12"/>
<polygon points="656.0,806.0 667.0,805.0 669.0,827.0 658.0,828.0" stroke-width="1.23"/>
<polygon points="673.5,797.0 692.7,797.0 692.7,822.6 673.5,822.6" stroke-width="1.34"/>
<polyline points="676.0,802.0 690.0,802.0" stroke-width="1.12"/>
<path d="M517,798 q0,-12 12,-12 q12,0 12,12 l0,16" stroke-width="1.23"/>
<polyline points="546.0,790.0 546.0,812.0" stroke-width="1.23"/>
<polyline points="552.0,790.0 552.0,812.0" stroke-width="1.12"/>
<polygon points="547.0,880.0 565.0,878.0 566.0,914.0 548.0,914.0" stroke-width="1.34"/>
<polygon points="577.0,867.0 604.0,866.0 605.0,908.0 578.0,908.0" stroke-width="1.34"/>
<polygon points="611.0,887.0 624.0,886.0 625.0,914.0 612.0,914.0" stroke-width="1.34"/>
<path d="M641,914 l0,-18 q0,-8 14,-8 q14,0 15,8 l0,18" stroke-width="1.34"/>
<polygon points="666.0,873.0 677.0,872.0 679.0,921.0 668.0,921.0" stroke-width="1.34"/>
<path d="M686,912 l0,-14 q2,-6 5,-6 q4,0 5,6 l0,14" stroke-width="1.23"/>
<polyline points="760.0,755.0 771.0,737.5 782.0,755.0" stroke-width="1.34"/>
<polygon points="741.0,755.0 792.4,757.0 792.4,813.0 741.0,811.0" stroke-width="1.46"/>
<polygon points="746.0,761.0 788.0,762.0 788.0,808.0 746.0,806.0" stroke-width="1.23"/>
<polygon points="765.0,818.0 786.0,818.0 786.0,848.3 765.0,848.3" stroke-width="1.46"/>
<polygon points="768.0,821.0 783.0,821.0 783.0,845.0 768.0,845.0" stroke-width="1.12"/>
<polygon points="726.5,827.5 758.6,828.0 758.6,869.2 726.5,869.2" stroke-width="1.34"/>
<polygon points="731.0,832.0 754.0,833.0 754.0,865.0 731.0,865.0" stroke-width="1.12"/>
<polyline points="790.0,858.0 797.0,858.0 797.0,890.0" stroke-width="1.23"/>
<polygon points="702.4,888.5 802.0,898.0 802.0,907.8 705.0,898.0" stroke-width="1.46"/>
<polyline points="716.0,899.0 746.0,972.0" stroke-width="1.46"/>
<polyline points="722.0,899.0 752.0,972.0" stroke-width="1.12"/>
<polyline points="752.0,905.0 716.0,968.0" stroke-width="1.46"/>
<polyline points="786.0,907.0 808.0,972.0" stroke-width="1.46"/>
<polyline points="798.0,907.0 770.0,970.0" stroke-width="1.46"/>
<polygon points="731.3,880.0 785.0,878.0 789.2,896.0 735.0,898.0" stroke-width="1.34"/>
<polyline points="735.0,886.0 785.0,884.0" stroke-width="1.12"/>
<polygon points="388.0,922.6 617.0,976.5 614.0,984.0 534.0,981.0 396.0,930.0" stroke-width="1.46" fill="#ebebeb"/>
<polygon points="396.0,930.0 534.0,981.0 526.0,1064.5 400.0,995.0" stroke-width="1.46" fill="#ebebeb"/>
<polygon points="534.0,981.0 614.0,984.0 586.0,1062.0 526.0,1064.5" stroke-width="1.34" fill="#ebebeb"/>
<polyline points="398.0,993.0 526.0,1064.0" stroke-width="1.23"/>
<ellipse cx="398.0" cy="996.0" rx="3.0" ry="5.0" stroke-width="1.23"/>
<ellipse cx="524.6" cy="1066.0" rx="3.0" ry="5.0" stroke-width="1.23"/>
<ellipse cx="583.0" cy="1063.0" rx="3.0" ry="5.0" stroke-width="1.23"/>
<polyline points="530.0,1000.0 522.0,1048.0" stroke-width="1.12"/>
<polygon points="593.0,988.0 612.0,991.0 608.0,1015.0 590.0,1012.0" stroke-width="1.34"/>
<polyline points="590.0,1015.0 585.0,1060.0" stroke-width="1.12"/>
<polygon points="430.0,896.0 451.0,898.0 461.0,944.6 436.0,940.0" stroke-width="1.34"/>
<path d="M471,941 l-2,-18 q4,-8 10,-6 l2,10" stroke-width="1.23"/>
<path d="M520,918 q0,-8 12,-8 q14,0 14,8 l4,18 q4,14 -6,22 q-10,6 -22,0 q-10,-8 -6,-22 z" stroke-width="1.46" fill="#e9e9e9"/>
<ellipse cx="527.0" cy="931.0" rx="5.0" ry="5.0" stroke-width="1.12"/>
<ellipse cx="540.0" cy="929.0" rx="2.0" ry="3.0" stroke-width="1.12"/>
<ellipse cx="538.0" cy="942.0" rx="3.0" ry="4.0" stroke-width="1.12"/>
<ellipse cx="530.0" cy="945.0" rx="4.0" ry="3.0" stroke-width="1.12"/>
<ellipse cx="533.0" cy="908.0" rx="10.0" ry="2.5" stroke-width="1.23"/>
<polyline points="533.0,902.0 533.0,906.0" stroke-width="1.79"/>
<polygon points="502.0,919.0 515.0,917.0 515.0,940.0 504.0,940.0" stroke-width="1.23"/>
<polygon points="566.0,950.0 574.0,950.0 574.0,963.0 566.0,963.0" stroke-width="1.23"/>
<polygon points="579.0,943.0 587.0,943.0 587.0,958.0 579.0,958.0" stroke-width="1.23"/>
<polygon points="896.4,761.6 903.8,739.5 1047.2,760.2 1032.4,779.4" stroke-width="1.46"/>
<polyline points="925.0,768.0 925.0,758.0 932.0,758.0 932.0,770.0" stroke-width="1.34"/>
<polyline points="990.0,775.0 990.0,765.0 997.0,765.0 997.0,778.0" stroke-width="1.34"/>
<polygon points="906.8,772.0 1014.6,786.8 1008.0,790.0 911.0,777.0" stroke-width="1.46"/>
<polyline points="915.0,778.0 1004.0,792.0" stroke-width="1.23"/>
<polygon points="920.0,788.0 1017.6,794.0 1017.6,1024.7 920.0,1004.0" stroke-width="1.46"/>
<polygon points="925.0,792.0 1012.0,798.0 1012.0,1022.0 925.0,1004.0" stroke-width="1.23"/>
<polygon points="936.3,812.0 998.4,817.0 998.4,828.0 936.3,823.0" stroke-width="1.34"/>
<polyline points="945.0,830.0 945.0,995.0" stroke-width="0.78" stroke="#888"/>
<polyline points="970.0,832.0 970.0,1003.0" stroke-width="0.78" stroke="#888"/>
<polyline points="995.0,835.0 995.0,1010.0" stroke-width="0.78" stroke="#888"/>
<polyline points="972.0,908.0 1004.0,910.0" stroke-width="0.9"/>
<polygon points="972.0,910.0 1003.0,913.0 1002.0,1010.0 972.0,1003.0" stroke-width="1.01"/>
<ellipse cx="934.0" cy="896.0" rx="4.0" ry="4.0" stroke-width="1.46"/>
<polygon points="933.0,900.0 938.0,900.0 938.0,925.0 933.0,925.0" stroke-width="1.23"/>
<polyline points="1012.0,800.0 1020.0,800.0 1020.0,1028.0" stroke-width="1.12"/>
<polygon points="1032.4,874.0 1062.0,876.0 1062.0,903.5 1032.4,901.0" stroke-width="1.34"/>
<polygon points="1038.0,880.0 1056.0,881.0 1056.0,898.0 1038.0,897.0" stroke-width="1.12"/>
<polyline points="1047.0,880.0 1047.0,898.0" stroke-width="1.12"/>
<polygon points="1110.7,841.4 1165.4,846.0 1165.4,915.3 1110.7,905.0" stroke-width="1.46"/>
<polygon points="1116.0,848.0 1160.0,852.0 1160.0,908.0 1116.0,899.0" stroke-width="1.23"/>
<polyline points="1135.0,846.0 1142.0,832.6 1149.0,847.0" stroke-width="1.34"/>
<polyline points="861.0,775.0 861.0,1010.0" stroke-width="1.57"/>
<polyline points="866.0,775.0 866.0,1010.0" stroke-width="1.46"/>
<ellipse cx="863.5" cy="774.0" rx="4.0" ry="6.0" stroke-width="1.46"/>
<path d="M830,1010 q8,-16 33,-14 q24,0 32,12" stroke-width="1.46"/>
<path d="M846,1001 q8,-10 18,-8" stroke-width="1.23"/>
<path d="M843,782 q-8,12 -10,40 l-8,72 l-6,16 l8,8 l4,-6 l2,30 l10,4 l2,-40 l4,-86 q2,-28 14,-40" stroke-width="1.34"/>
<path d="M870,786 q12,6 16,40 l12,70 l-6,6 l-2,30 l-12,2 l-4,-20" stroke-width="1.34"/>
<polyline points="848.0,800.0 872.0,802.0" stroke-width="1.34"/>
<polyline points="846.0,840.0 848.0,900.0" stroke-width="1.12"/>
<polyline points="878.0,840.0 880.0,890.0" stroke-width="1.12"/>
<polygon points="878.7,1007.0 912.0,996.0 1001.0,1030.0 966.0,1047.0" stroke-width="1.23"/>
<path d="M1010,935 l8,-8 l12,2 l6,-8 l8,4 l10,2 q6,6 0,14 l-6,4 l-2,20 l-2,70 l-12,4 l2,-86 l-8,-4 l-4,6 l-8,-4 z" stroke-width="1.46"/>
<polygon points="1042.7,999.0 1130.0,993.7 1174.3,1030.0 1085.0,1036.5" stroke-width="1.46" fill="#e9e9e9"/>
<polyline points="1085.0,1036.5 1085.0,1048.0" stroke-width="1.23"/>
<polyline points="1085.0,1048.0 1174.0,1040.0" stroke-width="1.23"/>
<polyline points="1046.0,1002.0 1046.0,1062.0" stroke-width="1.46"/>
<polyline points="1050.0,1002.0 1050.0,1062.0" stroke-width="1.12"/>
<polyline points="1122.0,1044.0 1122.0,1090.0" stroke-width="1.46"/>
<polyline points="1127.0,1044.0 1127.0,1090.0" stroke-width="1.12"/>
<polyline points="1163.0,1036.0 1163.0,1080.0" stroke-width="1.34"/>
<polyline points="1130.0,1000.0 1130.0,1040.0" stroke-width="1.12"/>
<path d="M1063,1007 q40,-4 70,10" stroke-width="0.9"/>
<path d="M1122,1010 q-2,-14 10,-20 l10,-30 q8,-8 18,-4 l8,6 l-6,48 q-4,12 -20,14 q-16,0 -20,-14 z" stroke-width="1.46"/>
<ellipse cx="1144.0" cy="1012.0" rx="16.0" ry="12.0" stroke-width="1.34"/>
<ellipse cx="1166.0" cy="960.0" rx="4.0" ry="4.0" stroke-width="1.23"/>
<path d="M1055,1055 q6,-8 20,-6 l4,6 l-22,4 z" stroke-width="1.23"/>
<path d="M1080,1060 q6,-6 16,-4 l2,6 z" stroke-width="1.23"/>
<path d="M1102,1052 l8,-10 l8,2 l-6,14 z" stroke-width="1.23"/>
<ellipse cx="1130.0" cy="1070.0" rx="22.0" ry="8.0" stroke-width="1.12"/>
<polygon points="990.0,1055.0 1030.0,1050.0 1053.0,1070.0 1012.0,1082.0" stroke-width="1.34"/>
<polyline points="1012.0,1082.0 1053.0,1075.0" stroke-width="1.23"/>
<polygon points="1005.0,1050.0 1020.0,1048.0 1024.0,1056.0 1008.0,1058.0" stroke-width="1.23"/>
<path d="M1065,1090 q10,-10 24,-14 q14,-4 20,2 l-6,6 q-14,0 -22,10 z" stroke-width="1.23"/>
<polygon points="1110.0,1080.0 1148.0,1074.0 1180.0,1090.0 1112.0,1092.0" stroke-width="1.12"/>
<polyline points="852.0,1078.0 880.0,1098.0" stroke-width="1.57"/>
<polyline points="860.0,1074.0 893.0,1100.0" stroke-width="1.57"/>
<polyline points="868.0,1070.0 898.0,1096.0" stroke-width="1.57"/>
<polyline points="898.0,1086.0 900.0,1108.0" stroke-width="1.57"/>
<polyline points="1050.0,1090.0 1075.0,1098.0" stroke-width="1.46"/>
<polyline points="1056.0,1086.0 1085.0,1098.0" stroke-width="1.46"/>
<polyline points="989.0,1085.0 1002.0,1093.0" stroke-width="1.12"/>
<path d="M628,1028 L690,1027 L692,1037 L629,1038 Q624,1033 628,1028 Z" stroke-width="1.34"/>
<polyline points="642.0,1029.0 642.0,1037.0" stroke-width="1.01"/>
<path d="M631,1038 L691,1037 L693,1047 L632,1048 Q627,1043 631,1038 Z" stroke-width="1.34"/>
<polyline points="645.0,1039.0 645.0,1047.0" stroke-width="1.01"/>
<path d="M628,1048 L692,1047 L694,1057 L629,1058 Q624,1053 628,1048 Z" stroke-width="1.34"/>
<polyline points="642.0,1049.0 642.0,1057.0" stroke-width="1.01"/>
<path d="M631,1058 L690,1057 L692,1067 L632,1068 Q627,1063 631,1058 Z" stroke-width="1.34"/>
<polyline points="645.0,1059.0 645.0,1067.0" stroke-width="1.01"/>
<path d="M628,1068 L691,1067 L693,1077 L629,1078 Q624,1073 628,1068 Z" stroke-width="1.34"/>
<polyline points="642.0,1069.0 642.0,1077.0" stroke-width="1.01"/>
<path d="M631,1078 L692,1077 L694,1087 L632,1088 Q627,1083 631,1078 Z" stroke-width="1.34"/>
<polyline points="645.0,1079.0 645.0,1087.0" stroke-width="1.01"/>
<path d="M628,1088 L690,1087 L692,1097 L629,1098 Q624,1093 628,1088 Z" stroke-width="1.34"/>
<polyline points="642.0,1089.0 642.0,1097.0" stroke-width="1.01"/>
<polygon points="618.0,1052.0 628.0,1050.0 622.0,1090.0 610.0,1088.0" stroke-width="1.23"/>
<polygon points="694.0,1058.0 703.0,1056.0 708.0,1096.0 699.0,1098.0" stroke-width="1.34"/>
<polygon points="706.0,1060.0 713.0,1058.0 719.0,1094.0 712.0,1096.0" stroke-width="1.34"/>
<polygon points="715.0,1061.0 721.0,1059.0 728.0,1093.0 721.0,1095.0" stroke-width="1.34"/>
<polygon points="350.0,1166.0 804.0,1164.0 1146.0,1232.0 1131.0,1230.0 1133.0,1587.0 1071.0,1587.0 1033.0,1618.0 844.0,1618.0 766.0,1578.0 640.0,1578.0 590.0,1583.0 515.0,1540.0 349.0,1452.0" fill="#ededed" stroke="none"/>
<polygon points="350.0,1166.0 804.0,1164.0 1146.0,1232.0 1131.0,1230.0 1131.0,1574.0 1125.0,1574.0 1030.0,1540.0 950.0,1505.0 803.0,1440.0 760.0,1430.0 560.0,1428.0 370.0,1438.0 349.0,1448.0" fill="#ebebeb" stroke="none"/>
<path d="M580.4,1428 L580.4,1267 Q585,1212 663,1212 Q740,1212 743.4,1267 L743.4,1428 Z" stroke="none" fill="#fcfcfc"/>
<polygon points="371.0,1366.0 554.0,1339.0 556.0,1417.0 371.0,1440.0" fill="#d5d5d5" stroke="none"/>
<polygon points="846.0,1378.0 926.0,1392.0 928.0,1457.0 846.0,1440.0" fill="#d3d3d3" stroke="none"/>
<polyline points="349.7,1168.0 349.7,1450.0" stroke-width="1.68"/>
<polyline points="356.8,1170.0 356.8,1445.0" stroke-width="1.12"/>
<polyline points="369.2,1176.0 369.2,1440.0" stroke-width="1.12"/>
<polyline points="350.0,1166.5 804.0,1164.0" stroke-width="1.57"/>
<polyline points="357.0,1171.8 804.0,1170.0" stroke-width="1.23"/>
<polyline points="369.0,1176.2 804.0,1175.0" stroke-width="1.12"/>
<polyline points="562.0,1176.0 562.0,1428.0" stroke-width="1.12"/>
<polyline points="756.3,1176.0 756.3,1430.0" stroke-width="1.12"/>
<polyline points="762.7,1176.0 762.7,1430.0" stroke-width="1.12"/>
<polyline points="370.0,1438.0 562.0,1428.0 753.0,1428.0" stroke-width="1.01" stroke="#555"/>
<polygon points="361.2,1240.0 557.5,1229.3 557.5,1236.0 362.0,1248.0" stroke-width="1.46"/>
<polygon points="371.0,1250.0 552.0,1240.0 554.0,1339.0 371.0,1365.5" stroke-width="1.46"/>
<polyline points="375.0,1254.0 549.0,1244.0" stroke-width="1.01"/>
<polyline points="371.0,1360.0 554.0,1333.0" stroke-width="1.12"/>
<polyline points="362.0,1240.0 362.0,1438.0" stroke-width="1.34"/>
<polyline points="370.0,1245.0 370.0,1438.0" stroke-width="1.12"/>
<polyline points="555.8,1221.0 555.8,1416.0" stroke-width="1.46"/>
<polyline points="562.8,1222.0 562.8,1417.0" stroke-width="1.34"/>
<polyline points="555.8,1221.0 562.8,1221.0" stroke-width="1.34"/>
<polygon points="398.4,1262.0 422.0,1261.0 423.0,1288.4 399.4,1289.4" stroke-width="1.34"/>
<polygon points="384.0,1297.5 404.4,1296.5 405.4,1314.0 385.0,1315.0" stroke-width="1.34"/>
<polygon points="428.4,1303.7 446.0,1302.7 447.0,1321.0 429.4,1322.0" stroke-width="1.34"/>
<polygon points="389.5,1328.4 409.0,1327.4 410.0,1341.5 390.5,1342.5" stroke-width="1.34"/>
<polygon points="485.0,1318.7 505.0,1317.7 506.0,1338.0 486.0,1339.0" stroke-width="1.34"/>
<polygon points="502.7,1262.0 523.0,1261.0 524.0,1282.0 503.7,1283.0" stroke-width="1.34"/>
<polygon points="527.5,1252.4 541.5,1251.4 542.5,1265.4 528.5,1266.4" stroke-width="1.34"/>
<polygon points="494.0,1282.5 514.0,1281.5 515.0,1304.3 495.0,1305.3" stroke-width="1.34"/>
<polygon points="513.3,1301.0 533.5,1300.0 534.5,1321.0 514.3,1322.0" stroke-width="1.34"/>
<polygon points="534.5,1278.0 546.0,1277.0 547.0,1299.0 535.5,1300.0" stroke-width="1.34"/>
<polygon points="392.0,1301.0 409.0,1300.0 410.0,1311.0 393.0,1312.0" stroke-width="1.34"/>
<polyline points="457.6,1277.0 400.0,1263.8" stroke-width="1.23"/>
<polyline points="457.6,1277.0 515.0,1261.0" stroke-width="1.23"/>
<polyline points="457.6,1277.0 494.0,1322.0" stroke-width="1.23"/>
<polyline points="457.6,1277.0 396.6,1328.3" stroke-width="1.23"/>
<polyline points="457.6,1277.0 410.7,1334.5" stroke-width="1.23"/>
<polyline points="457.6,1277.0 522.0,1301.0" stroke-width="1.23"/>
<polyline points="457.6,1277.0 393.0,1301.0" stroke-width="1.23"/>
<polyline points="515.0,1298.3 540.0,1279.7" stroke-width="1.23"/>
<polyline points="494.0,1322.0 515.0,1300.0" stroke-width="1.23"/>
<polyline points="505.0,1322.0 541.6,1327.4" stroke-width="1.12"/>
<ellipse cx="457.6" cy="1277.0" rx="1.8" ry="1.8" stroke-width="1.34"/>
<ellipse cx="522.0" cy="1301.0" rx="1.8" ry="1.8" stroke-width="1.34"/>
<ellipse cx="494.0" cy="1322.0" rx="1.8" ry="1.8" stroke-width="1.34"/>
<path d="M392,1275 q-4,10 2,18" stroke-width="0.9" stroke="#777"/>
<path d="M440,1290 q6,6 0,16" stroke-width="0.9" stroke="#777"/>
<path d="M470,1300 q6,10 0,20 q-4,8 4,12" stroke-width="0.9" stroke="#777"/>
<path d="M480,1255 q12,-4 24,2" stroke-width="0.9" stroke="#777"/>
<path d="M455,1335 q10,4 20,0" stroke-width="0.9" stroke="#777"/>
<polygon points="397.5,1200.0 419.6,1200.0 419.6,1224.9 397.5,1224.9" stroke-width="1.46"/>
<polygon points="437.3,1186.0 462.0,1186.0 462.0,1202.8 437.3,1202.8" stroke-width="1.46"/>
<polygon points="431.0,1211.6 455.8,1211.6 455.8,1232.0 431.0,1232.0" stroke-width="1.46"/>
<polygon points="462.0,1217.8 482.4,1217.8 482.4,1233.7 462.0,1233.7" stroke-width="1.46"/>
<polyline points="409.0,1194.0 409.0,1205.0" stroke-width="1.79"/>
<polyline points="448.0,1178.0 448.0,1188.0" stroke-width="1.57"/>
<polyline points="443.0,1207.0 443.0,1217.0" stroke-width="1.79"/>
<polyline points="432.0,1202.8 470.0,1202.8" stroke-width="1.23"/>
<polygon points="421.0,1370.0 478.0,1368.0 481.0,1378.0 423.0,1380.0" stroke-width="1.34"/>
<polygon points="421.0,1380.0 478.0,1378.0 481.0,1388.0 423.0,1390.0" stroke-width="1.34"/>
<polygon points="421.0,1390.0 478.0,1388.0 481.0,1398.0 423.0,1400.0" stroke-width="1.34"/>
<polygon points="421.0,1399.0 478.0,1397.0 481.0,1407.0 423.0,1409.0" stroke-width="1.34"/>
<path d="M392,1389 q8,-4 17,0 l0,22 q-8,3 -17,0 z" stroke-width="1.46"/>
<ellipse cx="400.5" cy="1389.0" rx="8.5" ry="2.5" stroke-width="1.34"/>
<ellipse cx="419.0" cy="1409.0" rx="8.0" ry="3.0" stroke-width="1.23"/>
<polygon points="375.0,1414.0 450.0,1416.0 452.0,1423.0 377.0,1422.0" stroke-width="1.34"/>
<polygon points="375.0,1423.0 450.0,1425.0 452.0,1432.0 377.0,1431.0" stroke-width="1.34"/>
<polygon points="375.0,1432.0 450.0,1434.0 452.0,1441.0 377.0,1440.0" stroke-width="1.34"/>
<polygon points="375.0,1441.0 450.0,1443.0 452.0,1450.0 377.0,1449.0" stroke-width="1.34"/>
<polygon points="482.0,1390.0 545.0,1388.0 557.0,1402.0 490.0,1405.0" stroke-width="1.23"/>
<polygon points="492.0,1392.0 541.0,1390.0 541.0,1410.0 494.0,1412.0" stroke-width="1.23"/>
<polygon points="518.0,1406.0 557.0,1404.0 557.0,1426.0 518.0,1428.0" stroke-width="1.34"/>
<ellipse cx="538.0" cy="1413.0" rx="7.0" ry="2.0" stroke-width="1.23"/>
<polygon points="487.0,1424.0 524.0,1420.0 545.0,1428.0 550.0,1460.0 488.0,1460.0" stroke-width="1.34"/>
<polyline points="520.0,1424.0 520.0,1460.0" stroke-width="1.23"/>
<ellipse cx="530.0" cy="1437.0" rx="6.0" ry="2.0" stroke-width="1.23"/>
<polygon points="455.0,1420.0 470.0,1419.0 466.0,1445.0 452.0,1446.0" stroke-width="1.23"/>
<polygon points="471.0,1420.0 485.0,1419.0 482.0,1444.0 468.0,1446.0" stroke-width="1.23"/>
<polygon points="415.0,1452.0 480.0,1448.0 482.0,1458.0 416.0,1462.0" stroke-width="1.34"/>
<polyline points="354.0,1449.0 372.0,1445.0" stroke-width="1.12"/>
<ellipse cx="397.0" cy="1460.0" rx="3.0" ry="5.0" stroke-width="1.12"/>
<polyline points="348.8,1450.0 570.6,1570.4 589.7,1582.4" stroke-width="1.34"/>
<polyline points="347.4,1457.3 579.3,1582.0" stroke-width="1.12"/>
<polyline points="420.0,1490.0 445.0,1490.0" stroke-width="1.34"/>
<polyline points="425.0,1495.0 448.0,1494.0" stroke-width="1.34"/>
<polyline points="578.0,1563.0 602.0,1563.0" stroke-width="1.34"/>
<polyline points="583.0,1568.0 606.0,1568.0" stroke-width="1.34"/>
<path d="M512,1530 q-8,3 -10,6 q10,2 20,-2 l58,0" stroke-width="1.23"/>
<path d="M566.4,1418 L566.4,1262 Q572,1201 663,1201.8 Q748,1202 754,1262 L754,1418" stroke-width="1.68"/>
<path d="M580.4,1418 L580.4,1268 Q585,1212 663,1212.5 Q738,1213 743.4,1268 L743.4,1418" stroke-width="1.34"/>
<polyline points="570.0,1258.0 570.0,1418.0" stroke-width="1.01"/>
<polygon points="565.4,1269.4 587.9,1271.0 587.9,1278.0 565.4,1277.0" stroke-width="1.34"/>
<polygon points="737.0,1269.0 760.0,1268.0 760.0,1276.0 737.0,1277.0" stroke-width="1.34"/>
<polyline points="563.0,1418.0 584.0,1418.0" stroke-width="1.12"/>
<ellipse cx="664.0" cy="1272.0" rx="9.5" ry="2.5" stroke-width="1.34"/>
<path d="M655,1272 q-2,18 -10,26 q-8,6 -8,13 l0,10 q26,4 51,0 l0,-10 q0,-7 -8,-13 q-8,-8 -8,-26" stroke-width="1.46" fill="#e8e8e8"/>
<polyline points="640.0,1322.0 640.0,1338.0" stroke-width="1.34"/>
<polyline points="645.0,1322.0 645.0,1338.0" stroke-width="1.34"/>
<polyline points="650.0,1322.0 650.0,1338.0" stroke-width="1.34"/>
<polyline points="655.0,1322.0 655.0,1338.0" stroke-width="1.34"/>
<polyline points="672.0,1322.0 672.0,1338.0" stroke-width="1.34"/>
<polyline points="677.0,1322.0 677.0,1338.0" stroke-width="1.34"/>
<polyline points="683.0,1322.0 683.0,1338.0" stroke-width="1.34"/>
<polyline points="687.0,1322.0 687.0,1338.0" stroke-width="1.34"/>
<polyline points="661.0,1323.0 664.0,1383.0" stroke-width="1.46"/>
<polyline points="666.0,1323.0 669.0,1383.0" stroke-width="1.34"/>
<path d="M692,1334 q2,-8 12,-8 q6,2 10,-2 q16,-6 34,-2 q12,2 16,8 l3,92 l-64,0 l-6,-28 z" stroke-width="1.34" fill="#ebebeb"/>
<polygon points="638.5,1380.0 646.0,1377.0 727.0,1422.0 740.0,1478.0 792.0,1481.0 796.0,1486.0 794.0,1504.0 729.0,1506.0 657.0,1461.0 653.6,1458.7" fill="#ececec" stroke="none"/>
<path d="M638.5,1382 Q640,1376 646,1377 L727,1421" stroke-width="1.46"/>
<polyline points="638.5,1382.0 653.6,1458.7" stroke-width="1.34"/>
<polyline points="643.0,1384.0 657.0,1456.0" stroke-width="0.9"/>
<polyline points="657.0,1460.3 728.8,1505.5" stroke-width="1.46"/>
<polyline points="728.8,1505.5 794.0,1504.0" stroke-width="1.34"/>
<path d="M727,1421 L740,1478 L790,1480 Q797,1482 796,1488 L794,1504" stroke-width="1.34"/>
<polyline points="715.4,1427.0 730.4,1504.0" stroke-width="1.23"/>
<polyline points="730.0,1506.0 732.0,1517.0" stroke-width="1.12"/>
<polyline points="658.6,1470.0 660.0,1497.0" stroke-width="1.46"/>
<polyline points="663.6,1470.0 664.0,1497.0" stroke-width="1.12"/>
<polyline points="727.0,1518.0 728.0,1544.0" stroke-width="1.46"/>
<polyline points="735.0,1518.0 735.0,1544.0" stroke-width="1.12"/>
<polyline points="780.6,1517.0 781.0,1545.0" stroke-width="1.46"/>
<polyline points="787.0,1517.0 787.0,1545.0" stroke-width="1.12"/>
<polyline points="729.0,1517.0 787.0,1517.0" stroke-width="1.12"/>
<path d="M642,1392 Q680,1400 715,1418" stroke-width="0.9" stroke="#666"/>
<path d="M641,1411 q-14,16 -10,46 q4,24 14,34 q6,4 12,0" stroke-width="1.34"/>
<polygon points="567.0,1432.0 600.0,1444.0 612.0,1462.0 575.0,1452.0" stroke-width="1.23"/>
<polygon points="566.0,1470.0 612.0,1458.0 628.0,1478.0 585.0,1492.0" stroke-width="1.34"/>
<polyline points="585.0,1492.0 628.0,1484.0" stroke-width="1.12"/>
<polyline points="575.0,1454.0 600.0,1448.0" stroke-width="1.12"/>
<polyline points="584.0,1420.0 592.0,1432.0" stroke-width="1.34"/>
<polygon points="608.0,1438.0 628.0,1445.0 622.0,1460.0 603.0,1452.0" stroke-width="1.23"/>
<polyline points="803.8,1164.5 1146.0,1232.6" stroke-width="1.46"/>
<polyline points="806.0,1172.0 1128.0,1236.0" stroke-width="1.01"/>
<polyline points="803.5,1164.0 803.5,1440.0" stroke-width="1.34"/>
<polyline points="867.6,1180.0 867.6,1330.0" stroke-width="1.01"/>
<polyline points="1009.6,1210.0 1009.6,1330.0" stroke-width="1.01"/>
<polyline points="1125.6,1228.0 1125.6,1573.0" stroke-width="1.46"/>
<polyline points="1130.0,1230.0 1130.0,1575.0" stroke-width="1.34"/>
<polyline points="765.7,1578.0 844.0,1610.0 1032.8,1610.0 1071.0,1577.3 1132.5,1574.8" stroke-width="1.46"/>
<polyline points="844.0,1618.5 1032.8,1618.5 1071.0,1586.6 1132.5,1585.8" stroke-width="1.46"/>
<polyline points="844.0,1610.0 844.0,1618.5" stroke-width="1.34"/>
<polyline points="1132.5,1574.8 1132.5,1586.0" stroke-width="1.34"/>
<polyline points="1032.8,1610.0 1032.8,1618.5" stroke-width="1.12"/>
<polyline points="640.6,1577.3 780.5,1577.3" stroke-width="1.57"/>
<polyline points="740.0,1576.0 778.0,1576.0" stroke-width="1.34"/>
<polygon points="895.0,1203.6 989.3,1216.0 989.3,1293.5 895.0,1276.0" stroke-width="1.46"/>
<polygon points="900.0,1210.0 984.0,1221.0 984.0,1287.0 900.0,1271.0" stroke-width="1.23"/>
<polygon points="792.0,1217.0 797.0,1213.0 826.0,1238.0 821.0,1243.0" stroke-width="1.46"/>
<polygon points="808.5,1216.0 813.0,1212.5 857.0,1241.0 852.0,1245.4" stroke-width="1.46"/>
<polygon points="777.2,1262.0 793.0,1227.0 797.6,1230.0 783.0,1267.3" stroke-width="1.46"/>
<path d="M794,1247 L860,1248 L860,1251 L794,1250 Q791,1249.0 794,1247 Z" stroke-width="1.34"/>
<path d="M794,1252 L862,1253 L862,1259.5 L794,1258.5 Q791,1255.75 794,1252 Z" stroke-width="1.34"/>
<path d="M796,1260 L863,1261 L863,1270.5 L796,1269.5 Q793,1265.25 796,1260 Z" stroke-width="1.34"/>
<path d="M811.7,1270 L866.5,1271 L866.5,1278.3 L811.7,1277.3 Q808.7,1274.15 811.7,1270 Z" stroke-width="1.34"/>
<path d="M775,1269.7 L812.5,1271.7 L812.5,1281.4 L776,1280.4 Q771,1275.5500000000002 775,1269.7 Z" stroke-width="1.34"/>
<path d="M775,1281.4 L811,1283.4 L811,1294 L776,1293 Q771,1287.7 775,1281.4 Z" stroke-width="1.34"/>
<path d="M775,1294 L810,1296 L810,1306.5 L776,1305.5 Q771,1300.25 775,1294 Z" stroke-width="1.34"/>
<path d="M775,1306.5 L809.3,1308.5 L809.3,1322 L776,1321 Q771,1314.25 775,1306.5 Z" stroke-width="1.34"/>
<path d="M775,1322 L807,1324 L807,1334.7 L776,1333.7 Q771,1328.35 775,1322 Z" stroke-width="1.34"/>
<polygon points="813.2,1274.0 819.0,1273.6 829.0,1331.5 822.0,1331.5" stroke-width="1.34"/>
<polygon points="824.0,1275.0 831.0,1275.0 838.0,1308.0 831.0,1309.0" stroke-width="1.34"/>
<path d="M831,1330 q-2,-18 4,-26 q10,-4 18,0 q4,10 2,26 z" stroke-width="1.46"/>
<polygon points="860.0,1330.0 878.0,1309.6 891.5,1312.0 874.0,1339.4" stroke-width="1.34"/>
<polygon points="864.0,1329.0 878.0,1314.0 886.0,1316.0 872.0,1334.0" stroke-width="1.12"/>
<polygon points="874.3,1278.3 893.1,1279.0 893.1,1305.0 874.3,1304.0" stroke-width="1.34"/>
<polygon points="877.5,1281.5 890.0,1282.0 890.0,1301.5 877.5,1301.0" stroke-width="1.12"/>
<polygon points="812.5,1326.9 1047.3,1350.0 1047.0,1357.0 814.0,1334.0" stroke-width="1.46"/>
<polyline points="818.0,1334.0 818.0,1455.0" stroke-width="1.34"/>
<polyline points="824.0,1336.0 824.0,1460.0" stroke-width="1.34"/>
<polygon points="832.0,1355.0 950.0,1366.0 950.0,1462.0 834.0,1440.0" stroke-width="1.46"/>
<polygon points="846.0,1378.0 926.0,1392.0 928.0,1457.0 846.0,1440.0" stroke-width="1.23"/>
<path d="M850,1420 q20,-16 46,-8 q12,10 18,30" stroke-width="1.23"/>
<polyline points="858.0,1420.0 910.0,1440.0" stroke-width="1.12"/>
<polyline points="950.0,1366.0 952.0,1470.0" stroke-width="1.34"/>
<polyline points="958.0,1368.0 960.0,1480.0" stroke-width="1.23"/>
<polygon points="910.0,1278.0 964.0,1288.0 954.0,1352.0 900.0,1345.0" stroke-width="1.46"/>
<polygon points="916.0,1286.0 956.0,1294.0 948.0,1344.0 907.0,1338.0" stroke-width="1.23"/>
<polygon points="972.0,1309.5 989.3,1311.0 989.3,1335.6 972.0,1334.0" stroke-width="1.34"/>
<polygon points="962.0,1335.0 974.0,1336.0 974.0,1352.0 962.0,1351.0" stroke-width="1.23"/>
<polygon points="978.0,1345.0 1044.0,1338.0 1046.0,1352.0 980.0,1360.0" stroke-width="1.34"/>
<polyline points="982.0,1350.0 1000.0,1345.0 1004.0,1380.0" stroke-width="1.34"/>
<polygon points="998.0,1360.0 1044.0,1358.0 1046.0,1370.0 1000.0,1372.0" stroke-width="1.34"/>
<polygon points="1002.0,1372.0 1046.0,1372.0 1046.0,1384.0 1004.0,1386.0" stroke-width="1.34"/>
<polygon points="766.3,1333.0 824.2,1340.0 824.2,1453.7 766.3,1440.0" stroke-width="1.34"/>
<polyline points="770.0,1383.0 824.0,1388.0" stroke-width="1.23"/>
<polyline points="770.0,1405.0 824.0,1410.0" stroke-width="1.23"/>
<polyline points="770.0,1424.0 824.0,1429.0" stroke-width="1.23"/>
<polyline points="774.0,1382.0 782.0,1352.0" stroke-width="1.34"/>
<polyline points="781.0,1382.0 790.0,1352.0" stroke-width="1.34"/>
<polyline points="787.0,1382.0 791.0,1352.0" stroke-width="1.34"/>
<polyline points="794.0,1382.0 800.0,1352.0" stroke-width="1.34"/>
<polyline points="801.0,1382.0 803.0,1352.0" stroke-width="1.34"/>
<polyline points="806.0,1382.0 809.0,1352.0" stroke-width="1.34"/>
<polyline points="812.0,1382.0 814.0,1352.0" stroke-width="1.34"/>
<polyline points="776.0,1390.0 776.0,1404.0" stroke-width="1.12"/>
<polyline points="786.0,1390.0 786.0,1404.0" stroke-width="1.12"/>
<polyline points="798.0,1390.0 798.0,1404.0" stroke-width="1.12"/>
<polyline points="808.0,1390.0 808.0,1404.0" stroke-width="1.12"/>
<polyline points="816.0,1390.0 816.0,1404.0" stroke-width="1.12"/>
<polygon points="954.5,1382.0 1035.7,1392.0 1033.0,1538.5 958.0,1520.0" stroke-width="1.34"/>
<polyline points="958.0,1420.0 1034.0,1428.0" stroke-width="1.23"/>
<polyline points="958.0,1460.0 1034.0,1468.0" stroke-width="1.23"/>
<polyline points="958.0,1495.0 1034.0,1503.0" stroke-width="1.23"/>
<polyline points="965.0,1424.0 965.0,1458.0" stroke-width="1.12"/>
<polyline points="972.0,1424.0 972.0,1458.0" stroke-width="1.12"/>
<polyline points="980.0,1424.0 980.0,1458.0" stroke-width="1.12"/>
<polyline points="990.0,1424.0 990.0,1458.0" stroke-width="1.12"/>
<polyline points="1000.0,1424.0 1000.0,1458.0" stroke-width="1.12"/>
<polyline points="1010.0,1424.0 1010.0,1458.0" stroke-width="1.12"/>
<polyline points="1020.0,1424.0 1020.0,1458.0" stroke-width="1.12"/>
<polyline points="968.0,1470.0 968.0,1500.0" stroke-width="1.12"/>
<polyline points="978.0,1470.0 978.0,1500.0" stroke-width="1.12"/>
<polyline points="988.0,1470.0 988.0,1500.0" stroke-width="1.12"/>
<polyline points="1002.0,1470.0 1002.0,1500.0" stroke-width="1.12"/>
<polyline points="1016.0,1470.0 1016.0,1500.0" stroke-width="1.12"/>
<polygon points="965.0,1393.0 1030.0,1398.0 1032.0,1410.0 967.0,1406.0" stroke-width="1.23"/>
<polyline points="1065.4,1271.5 1065.4,1551.0" stroke-width="1.46"/>
<polyline points="1062.0,1275.0 1062.0,1551.0" stroke-width="1.01"/>
<polyline points="1049.3,1256.5 1122.0,1267.0" stroke-width="1.23"/>
<polyline points="1065.4,1271.5 1122.3,1268.3" stroke-width="1.23"/>
<path d="M1049,1257 q10,2 16,14" stroke-width="1.23"/>
<polyline points="1065.4,1550.6 1122.3,1551.5" stroke-width="1.12"/>
<path d="M1070,1234 q-4,-6 4,-10 l6,-4 q2,-6 10,-5 q8,0 8,6 l4,4 q10,-4 10,6 q-2,8 -8,10 q-2,10 -10,14 q-12,2 -16,-8 q-8,-2 -8,-13z" stroke-width="1.46"/>
<path d="M1077,1236 q-2,-6 3,-8 q4,2 1,6 q5,4 0,8 M1080,1244 l1,6" stroke-width="1.23"/>
<path d="M1062,1290 q-14,5.0 -14,10 M1062,1294 q-10,5.0 -8,12" stroke-width="1.23"/>
<path d="M1062,1310 q-14,6.0 -14,12 M1062,1314 q-10,6.0 -8,14" stroke-width="1.23"/>
<path d="M1062,1365 q-14,5.0 -14,10 M1062,1369 q-10,5.0 -8,12" stroke-width="1.23"/>
<path d="M1062,1390 q-14,6.0 -14,12 M1062,1394 q-10,6.0 -8,14" stroke-width="1.23"/>
<path d="M1062,1420 q-14,7.0 -14,14 M1062,1424 q-10,7.0 -8,16" stroke-width="1.23"/>
<path d="M1062,1450 q-14,6.0 -14,12 M1062,1454 q-10,6.0 -8,14" stroke-width="1.23"/>
<path d="M1062,1480 q-14,7.0 -14,14 M1062,1484 q-10,7.0 -8,16" stroke-width="1.23"/>
<path d="M1062,1515 q-14,7.0 -14,14 M1062,1519 q-10,7.0 -8,16" stroke-width="1.23"/>
<path d="M1062,1545 q-14,5.0 -14,10 M1062,1549 q-10,5.0 -8,12" stroke-width="1.23"/>
<polygon points="1045.0,1330.0 1058.0,1329.0 1058.0,1358.0 1046.0,1358.0" stroke-width="1.34"/>
<ellipse cx="1051.5" cy="1330.0" rx="6.5" ry="2.0" stroke-width="1.23"/>
<polygon points="1048.0,1337.0 1056.0,1337.0 1056.0,1352.0 1048.0,1352.0" stroke-width="1.12"/>
<path d="M1055,1290 l4,-20 l3,0 l-2,22 M1050,1305 l6,-12 M1048,1380 q6,-6 12,-4 M1050,1440 q4,-10 10,-12" stroke-width="1.12"/>
<path d="M1066,1555 q-4,6 0,10 q4,6 -2,12" stroke-width="1.23"/>
<ellipse cx="932.8" cy="1482.0" rx="44.9" ry="15.5" stroke-width="1.46" fill="#e8e8e8"/>
<ellipse cx="932.8" cy="1478.0" rx="40.0" ry="12.0" stroke-width="1.12"/>
<path d="M925.6,1498 l-2,30 q-10,14 -26,22 M945,1498 l2,30 q10,14 26,22 M935,1510 l0,40" stroke-width="1.34"/>
<path d="M901,1449 l2,20 l16,0 l2,-20 z" stroke-width="1.46"/>
<ellipse cx="911.0" cy="1449.0" rx="10.0" ry="3.0" stroke-width="1.34"/>
<polygon points="930.0,1446.0 945.9,1446.0 945.9,1477.0 930.0,1477.0" stroke-width="1.46"/>
<polyline points="950.0,1460.0 950.0,1488.0" stroke-width="1.46"/>
<path d="M789,1495 q20,10 40,6 q30,16 50,30 q30,20 46,24 q30,-2 60,-10 M800,1540 q40,10 80,4" stroke-width="1.01"/>
<polygon points="815.0,1470.0 860.0,1476.0 874.0,1500.0 830.0,1496.0" stroke-width="1.34"/>
<polygon points="830.0,1496.0 870.0,1490.0 884.0,1510.0 846.0,1522.0" stroke-width="1.34"/>
<polygon points="812.0,1512.0 848.0,1510.0 858.0,1530.0 822.0,1532.0" stroke-width="1.34"/>
<polyline points="820.0,1480.0 850.0,1486.0" stroke-width="1.01"/>
<polyline points="835.0,1505.0 865.0,1500.0" stroke-width="1.01"/>
<path d="M740,1380 q10,-4 24,0 l20,120 q-4,10 -20,12" stroke-width="1.34"/>
<polygon points="506.0,1589.0 513.3,1584.5 765.7,1578.0 855.5,1631.4 552.0,1638.0" fill="#ececec" stroke="none"/>
<polyline points="513.3,1584.5 642.7,1582.4" stroke-width="1.34"/>
<polyline points="506.0,1589.0 552.0,1638.0" stroke-width="1.46"/>
<polyline points="516.6,1639.5 854.3,1630.6" stroke-width="1.46"/>
<polyline points="764.0,1578.3 855.5,1631.4" stroke-width="1.46"/>
<polyline points="640.3,1576.7 781.8,1577.1" stroke-width="2.02"/>
<polyline points="661.7,1593.8 787.7,1593.8" stroke-width="1.34"/>
<polyline points="544.0,1587.8 589.2,1636.6" stroke-width="1.46"/>
<polyline points="578.5,1585.5 633.2,1636.6" stroke-width="1.46"/>
<polyline points="619.0,1583.0 683.0,1634.2" stroke-width="1.46"/>
<polyline points="646.0,1584.3 714.0,1634.2" stroke-width="1.46"/>
<polyline points="661.7,1586.6 726.0,1634.2" stroke-width="1.46"/>
<polyline points="638.4,1565.4 668.0,1586.6" stroke-width="1.46"/>
<polyline points="661.8,1573.0 680.0,1586.0" stroke-width="1.46"/>
<polyline points="676.6,1571.8 695.7,1586.6" stroke-width="1.46"/>
<path d="M1120.5,600.8 L1196.2,600.3 L1217.4,636.5" stroke-width="1.79" stroke="#1a1a1a"/>
<path d="M1121,600.8 L1121.5,635.5" stroke-width="2.46" stroke="#1a1a1a"/>
<path d="M1122.5,602 L1122.9,625.8 L1134.5,625.8 L1135,610 L1192.8,609 L1193.2,601" stroke-width="1.79" stroke="#1a1a1a"/>
<path d="M1155,616 Q1154,615 1160,615 L1183,615.2 Q1184,616 1183.6,626.5 L1156,627.8 Q1153.7,627 1155,616 Z" stroke-width="1.79" stroke="#1a1a1a"/>
<path d="M1107,635.5 L1170.6,635.5" stroke-width="1.79" stroke="#1a1a1a"/>
<path d="M1170.6,636.5 L1217.4,637" stroke-width="1.79" stroke="#1a1a1a"/>
<path d="M1106.5,635.5 L1106.5,721.3 L1170.6,720.8 L1183.6,721.3 L1209.7,703 L1218.8,703 L1218.8,637.4" stroke-width="1.79" stroke="#1a1a1a"/>
<path d="M1171.1,636.5 L1171.1,720.8" stroke-width="1.79" stroke="#1a1a1a"/>
<path d="M1173,665 L1173.5,705" stroke-width="1.34" stroke="#1a1a1a"/>
<path d="M1171,639.3 L1162.4,639.3 L1162.4,668.3 L1171,668.3" stroke-width="1.79" stroke="#1a1a1a"/>
<path d="M1089,604.5 Q1088.5,604 1095,604 L1110.8,604.4 L1110.8,615 Q1100,614 1089,615.5 Z" stroke-width="1.79" stroke="#1a1a1a"/>
<path d="M1088.2,618 L1088.2,655.7 M1088.2,622 L1104,622 M1088.2,628.3 L1104,628.3 M1088.2,634.5 L1104,634.5 M1088.5,640.3 L1102,641 L1100,655.7 M1085.3,655.7 L1106.5,655.7" stroke-width="1.79" stroke="#1a1a1a"/>
<path d="M1110.5,614 L1111,640 L1108,660" stroke-width="1.46" stroke="#1a1a1a"/>
<path d="M1109.8,604.6 L1111.5,604.6 L1111.5,614 M1115.5,605 L1115.5,613.8" stroke-width="1.57" stroke="#1a1a1a"/>
<path d="M1110.8,640 L1116.6,639.3 L1116.6,656 L1110.8,657 Z" stroke-width="1.79" stroke="#1a1a1a"/>
<path d="M1106.5,656 Q1104,661 1097.8,663 L1097.4,695.3 L1106.5,704" stroke-width="1.79" stroke="#1a1a1a"/>
<path d="M1105,666 L1116.2,665.4 L1115.5,691 L1104.6,690.9 Z" stroke-width="1.79" stroke="#1a1a1a"/>
<path d="M1099.5,667.3 L1100.7,667.3 L1100.7,690 L1097.8,690" stroke-width="1.79" stroke="#1a1a1a"/>
<path d="M1127.2,681.5 L1149,680.3 L1149.9,692 L1127.5,693.3 Z" stroke-width="1.79" stroke="#1a1a1a"/>
<path d="M1129,698 L1151.8,697.2 L1151.2,706.8 L1128.7,706 Z" stroke-width="1.79" stroke="#1a1a1a"/>
<path d="M1151.8,694 L1160.5,687.5 L1167.2,699 L1158,703.5 Z" stroke-width="1.79" stroke="#1a1a1a"/>
<path d="M1122.4,720 L1122.6,713.1 L1157.1,714 L1157.1,720" stroke-width="1.79" stroke="#1a1a1a"/>
<path d="M1210.6,673 L1216.9,672.6 M1210.6,673 L1210.6,696.2 L1216,696.2" stroke-width="1.79" stroke="#1a1a1a"/>
<path d="M1183.6,705 L1199.5,694.5 L1203,699 L1186.5,709.5 Z" stroke-width="1.79" stroke="#1a1a1a"/>
<path d="M1188,715.5 L1209.7,703 L1210.5,705 L1189,717.5 Z" stroke-width="1.79" stroke="#1a1a1a"/>
<line x1="601.4" y1="212.2" x2="608.2" y2="250.3" stroke="#0d0d0d" stroke-width="2.6" stroke-linecap="round"/>
<line x1="229.5" y1="320.3" x2="393.6" y2="314.8" stroke="#0d0d0d" stroke-width="2.6" stroke-linecap="round"/>
<line x1="241.0" y1="453.4" x2="395.5" y2="400.0" stroke="#0d0d0d" stroke-width="2.6" stroke-linecap="round"/>
<line x1="327.7" y1="532.5" x2="323.4" y2="464.2" stroke="#0d0d0d" stroke-width="2.6" stroke-linecap="round"/>
<line x1="885.5" y1="277.0" x2="1232.0" y2="307.9" stroke="#0d0d0d" stroke-width="2.6" stroke-linecap="round"/>
<line x1="1146.4" y1="435.2" x2="1242.6" y2="429.4" stroke="#0d0d0d" stroke-width="2.6" stroke-linecap="round"/>
<line x1="1112.9" y1="392.4" x2="1247.0" y2="508.0" stroke="#0d0d0d" stroke-width="2.6" stroke-linecap="round"/>
<line x1="349.0" y1="750.3" x2="733.0" y2="888.5" stroke="#0d0d0d" stroke-width="2.6" stroke-linecap="round"/>
<line x1="323.3" y1="864.8" x2="549.8" y2="803.4" stroke="#0d0d0d" stroke-width="2.6" stroke-linecap="round"/>
<line x1="488.0" y1="1086.4" x2="629.0" y2="1074.0" stroke="#0d0d0d" stroke-width="2.6" stroke-linecap="round"/>
<line x1="1031.0" y1="779.4" x2="1201.0" y2="859.5" stroke="#0d0d0d" stroke-width="2.6" stroke-linecap="round"/>
<line x1="1056.0" y1="953.8" x2="1195.0" y2="943.4" stroke="#0d0d0d" stroke-width="2.6" stroke-linecap="round"/>
<line x1="1161.0" y1="1036.5" x2="1199.4" y2="1046.9" stroke="#0d0d0d" stroke-width="2.6" stroke-linecap="round"/>
<line x1="306.7" y1="1228.9" x2="423.1" y2="1273.5" stroke="#0d0d0d" stroke-width="2.6" stroke-linecap="round"/>
<line x1="296.4" y1="1324.2" x2="393.0" y2="1390.2" stroke="#0d0d0d" stroke-width="2.6" stroke-linecap="round"/>
<line x1="281.4" y1="1456.6" x2="424.0" y2="1437.0" stroke="#0d0d0d" stroke-width="2.6" stroke-linecap="round"/>
<line x1="940.0" y1="1312.4" x2="1152.0" y2="1288.0" stroke="#0d0d0d" stroke-width="2.6" stroke-linecap="round"/>
<line x1="1072.0" y1="1402.2" x2="1152.0" y2="1426.9" stroke="#0d0d0d" stroke-width="2.6" stroke-linecap="round"/>
<line x1="864.7" y1="1525.5" x2="1150.0" y2="1563.0" stroke="#0d0d0d" stroke-width="2.6" stroke-linecap="round"/>
<line x1="945.9" y1="1486.3" x2="1087.0" y2="1620.0" stroke="#0d0d0d" stroke-width="2.6" stroke-linecap="round"/>
<path d="M306,1324.6 Q600,1388 897,1465" stroke-width="2.91" stroke="#0d0d0d"/>
</g>
<text x="34.0" y="81.6" class="h" textLength="1016.0" lengthAdjust="spacingAndGlyphs" font-size="70.5">APARTMENT - BROCK&amp;JIMMY'S</text>
<text x="33.5" y="104.5" class="h" textLength="1311.0" lengthAdjust="spacingAndGlyphs" font-size="22.3">Keyword: 1930s, books and treasures, indiana jones vibe, messy books, truffle of kings picture, chemical equipment, collectibles, fire</text>
<text x="33.5" y="128.0" class="h" textLength="497.5" lengthAdjust="spacingAndGlyphs" font-size="22.3">extinguisher, map with threads&amp;notes, pic of brock</text>
<text x="33.5" y="151.5" class="h" textLength="201.0" lengthAdjust="spacingAndGlyphs" font-size="22.3">INITIAL SKETCHES</text>
<text x="1197.0" y="148.5" class="a" textLength="81.0" lengthAdjust="spacingAndGlyphs">Color key</text>
<text x="466.0" y="187.0" class="a" textLength="358.0" lengthAdjust="spacingAndGlyphs">Stair to brock and Jimmy's bedroom. A lot</text>
<text x="466.0" y="207.0" class="a" textLength="240.0" lengthAdjust="spacingAndGlyphs">of family potraits on the wall</text>
<text x="59.8" y="309.3" class="a" textLength="182.4" lengthAdjust="spacingAndGlyphs">notes and calculation</text>
<text x="59.8" y="328.8" class="a" textLength="125.8" lengthAdjust="spacingAndGlyphs">on the window</text>
<text x="25.4" y="401.6" class="a" textLength="155.8" lengthAdjust="spacingAndGlyphs">Desk for Jimmy to</text>
<text x="25.4" y="421.1" class="a" textLength="214.4" lengthAdjust="spacingAndGlyphs">experiments on stuff. The</text>
<text x="25.4" y="440.7" class="a" textLength="238.8" lengthAdjust="spacingAndGlyphs">wall is full of prototypes and</text>
<text x="25.4" y="460.2" class="a" textLength="135.7" lengthAdjust="spacingAndGlyphs">chemistry notes</text>
<text x="193.4" y="549.8" class="a" textLength="184.3" lengthAdjust="spacingAndGlyphs">Corner shelves, full of</text>
<text x="193.4" y="569.4" class="a" textLength="173.4" lengthAdjust="spacingAndGlyphs">small and expensive</text>
<text x="193.4" y="588.9" class="a" textLength="90.8" lengthAdjust="spacingAndGlyphs">mementos</text>
<text x="725.6" y="590.7" class="a" textLength="84.4" lengthAdjust="spacingAndGlyphs">Main door</text>
<text x="1245.7" y="285.4" class="a" textLength="283.5" lengthAdjust="spacingAndGlyphs">A lot of books ans document that</text>
<text x="1245.7" y="305.2" class="a" textLength="250.9" lengthAdjust="spacingAndGlyphs">doesnt fit in the living room is</text>
<text x="1245.7" y="325.0" class="a" textLength="229.6" lengthAdjust="spacingAndGlyphs">stored here (on the kitchen</text>
<text x="1245.7" y="344.6" class="a" textLength="69.1" lengthAdjust="spacingAndGlyphs">cabinet)</text>
<text x="1247.2" y="420.7" class="a" textLength="216.8" lengthAdjust="spacingAndGlyphs">Some very important and</text>
<text x="1247.2" y="440.0" class="a" textLength="277.2" lengthAdjust="spacingAndGlyphs">precious mementos; helmet and</text>
<text x="1247.2" y="459.4" class="a" textLength="204.7" lengthAdjust="spacingAndGlyphs">little statues stored here</text>
<text x="1247.2" y="519.0" class="a" textLength="238.5" lengthAdjust="spacingAndGlyphs">Big pictures of Brock Wilbur</text>
<text x="925.6" y="630.5" class="s" textLength="144.8" lengthAdjust="spacingAndGlyphs">The other side is kitchen</text>
<text x="925.6" y="644.3" class="s" textLength="94.8" lengthAdjust="spacingAndGlyphs">and stairs to the</text>
<text x="925.6" y="658.0" class="s" textLength="60.8" lengthAdjust="spacingAndGlyphs">bedrooms</text>
<text x="1238.5" y="620.5" class="s" textLength="188.0" lengthAdjust="spacingAndGlyphs">The house layout divided into 2;</text>
<text x="1238.5" y="634.4" class="s" textLength="147.0" lengthAdjust="spacingAndGlyphs">entrance (to stores many</text>
<text x="1238.5" y="647.8" class="s" textLength="188.3" lengthAdjust="spacingAndGlyphs">mementos from adventure) and</text>
<text x="1238.5" y="661.5" class="s" textLength="176.7" lengthAdjust="spacingAndGlyphs">living room (to study and plan</text>
<text x="1238.5" y="674.6" class="s" textLength="177.4" lengthAdjust="spacingAndGlyphs">the newest adventure). Mainly</text>
<text x="1238.5" y="688.4" class="s" textLength="183.5" lengthAdjust="spacingAndGlyphs">Jimmy and Brock will be in the</text>
<text x="1238.5" y="701.8" class="s" textLength="197.2" lengthAdjust="spacingAndGlyphs">living room. The entrance is there</text>
<text x="1238.5" y="715.2" class="s" textLength="157.6" lengthAdjust="spacingAndGlyphs">to show off their collection</text>
<text x="118.2" y="750.8" class="a" textLength="220.3" lengthAdjust="spacingAndGlyphs">random special memento</text>
<text x="51.1" y="869.2" class="a" textLength="253.4" lengthAdjust="spacingAndGlyphs">A bunch if mementos in every</text>
<text x="51.1" y="888.9" class="a" textLength="299.6" lengthAdjust="spacingAndGlyphs">adventure, putting the shelves here</text>
<text x="51.1" y="908.6" class="a" textLength="295.5" lengthAdjust="spacingAndGlyphs">so people who visits can see them</text>
<text x="51.1" y="927.8" class="a" textLength="142.1" lengthAdjust="spacingAndGlyphs">first (to show off)</text>
<text x="201.8" y="1077.0" class="a" textLength="266.7" lengthAdjust="spacingAndGlyphs">Some new books before theyre</text>
<text x="201.8" y="1096.2" class="a" textLength="280.8" lengthAdjust="spacingAndGlyphs">stored in the shelves inside living</text>
<text x="201.8" y="1115.4" class="a" textLength="43.2" lengthAdjust="spacingAndGlyphs">room</text>
<text x="1207.7" y="850.5" class="a" textLength="238.1" lengthAdjust="spacingAndGlyphs">Treasure found when on the</text>
<text x="1207.7" y="870.2" class="a" textLength="85.4" lengthAdjust="spacingAndGlyphs">adventure</text>
<text x="1212.8" y="939.9" class="a" textLength="270.7" lengthAdjust="spacingAndGlyphs">Hand statue to put car keys and</text>
<text x="1212.8" y="959.3" class="a" textLength="284.6" lengthAdjust="spacingAndGlyphs">door keys (statue was found from</text>
<text x="1212.8" y="979.2" class="a" textLength="122.6" lengthAdjust="spacingAndGlyphs">the adventure)</text>
<text x="1198.9" y="1042.1" class="a" textLength="299.6" lengthAdjust="spacingAndGlyphs">Shoe rack with cushion on top of it,</text>
<text x="1198.9" y="1061.8" class="a" textLength="96.1" lengthAdjust="spacingAndGlyphs">to put bags</text>
<text x="937.6" y="1127.6" class="a" textLength="229.1" lengthAdjust="spacingAndGlyphs">entrance to the living room</text>
<text x="66.0" y="1220.1" class="a" textLength="255.0" lengthAdjust="spacingAndGlyphs">Notes and board of organized</text>
<text x="66.0" y="1239.2" class="a" textLength="236.0" lengthAdjust="spacingAndGlyphs">plan; in search of the truffle!</text>
<text x="67.5" y="1313.9" class="a" textLength="281.7" lengthAdjust="spacingAndGlyphs">Random truffle jar here and there</text>
<text x="74.3" y="1421.6" class="a" textLength="244.7" lengthAdjust="spacingAndGlyphs">Piles of books and important</text>
<text x="74.3" y="1441.4" class="a" textLength="235.2" lengthAdjust="spacingAndGlyphs">document, prep for another</text>
<text x="74.3" y="1460.7" class="a" textLength="84.7" lengthAdjust="spacingAndGlyphs">adventure</text>
<text x="276.2" y="1549.6" class="a" textLength="232.5" lengthAdjust="spacingAndGlyphs">To kitchen and dining room</text>
<text x="1159.2" y="1260.1" class="a" textLength="298.8" lengthAdjust="spacingAndGlyphs">Family potraits above the fireplace,</text>
<text x="1159.2" y="1279.3" class="a" textLength="278.0" lengthAdjust="spacingAndGlyphs">also photos and mementos from</text>
<text x="1159.2" y="1298.6" class="a" textLength="85.3" lengthAdjust="spacingAndGlyphs">childhood</text>
<text x="1165.1" y="1402.8" class="a" textLength="289.6" lengthAdjust="spacingAndGlyphs">Many books are stored here in the</text>
<text x="1165.1" y="1422.0" class="a" textLength="283.0" lengthAdjust="spacingAndGlyphs">shelves, but Jimmy reads a lot so</text>
<text x="1165.1" y="1441.0" class="a" textLength="285.2" lengthAdjust="spacingAndGlyphs">not enough shelves for the books</text>
<text x="1156.1" y="1549.6" class="a" textLength="271.4" lengthAdjust="spacingAndGlyphs">Unmade carpet, When in winter</text>
<text x="1156.1" y="1568.8" class="a" textLength="275.9" lengthAdjust="spacingAndGlyphs">jimmy loves to read and study in</text>
<text x="1156.1" y="1588.0" class="a" textLength="171.5" lengthAdjust="spacingAndGlyphs">front of the fireplace</text>
<text x="1009.2" y="1636.2" class="a" textLength="184.2" lengthAdjust="spacingAndGlyphs">Coffee table and sofa</text>
</svg>
</body></html>
